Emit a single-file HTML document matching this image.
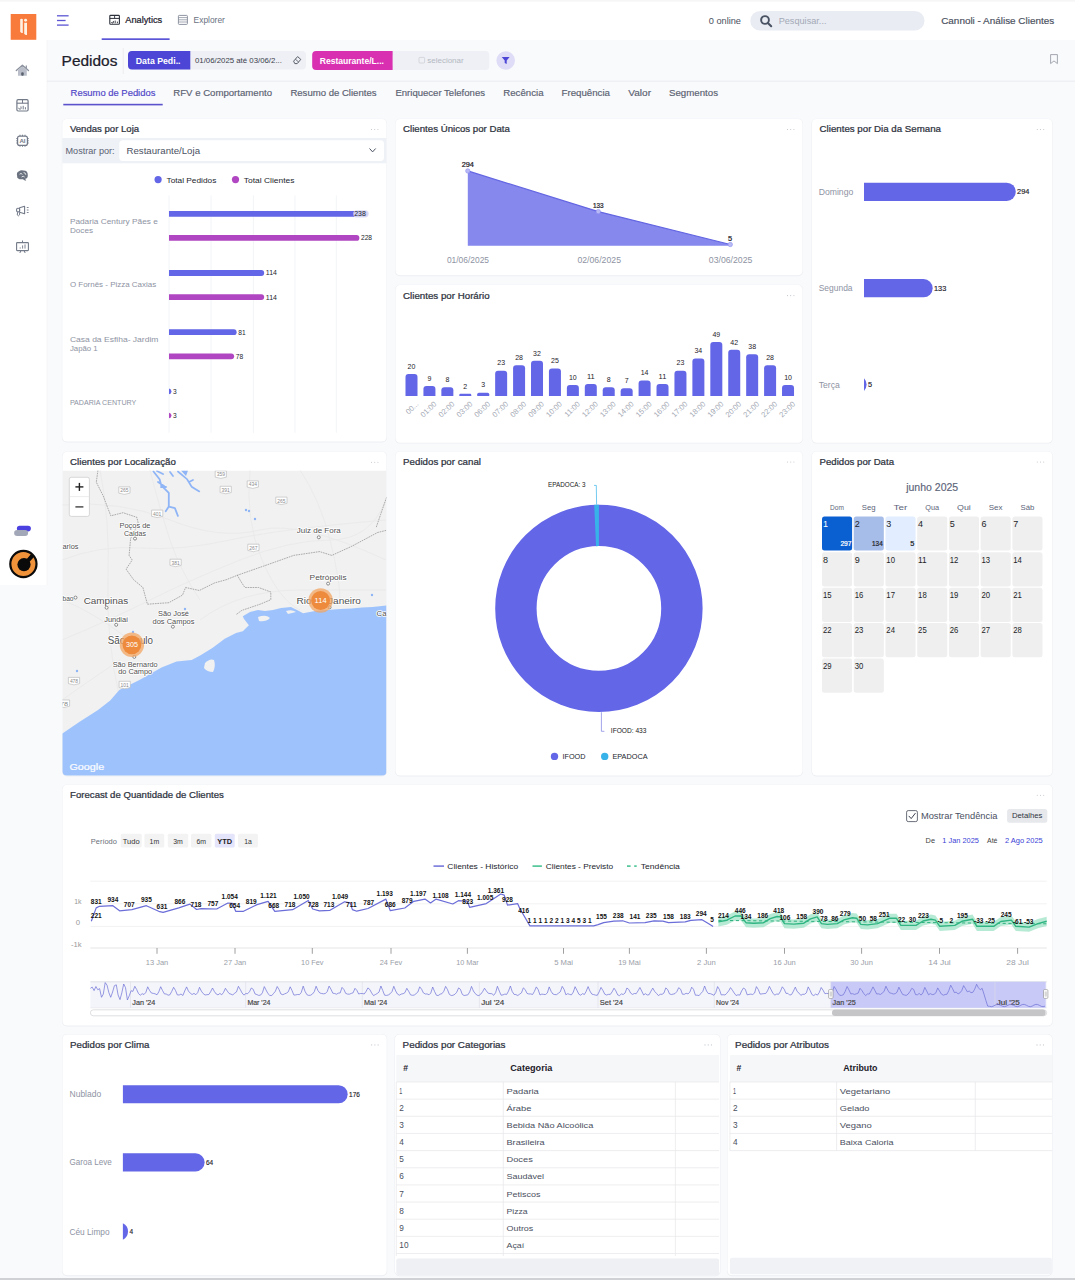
<!DOCTYPE html>
<html><head><meta charset="utf-8"><style>
html,body{margin:0;padding:0;background:#f8f9fb;width:1075px;height:1280px;overflow:hidden}
svg{display:block;font-family:"Liberation Sans",sans-serif}
</style></head><body>
<svg width="1075" height="1280" viewBox="0 0 1075 1280">
<rect x="0.00" y="0.00" width="1075.00" height="1280.00" rx="0" fill="#f9fafc" />
<rect x="0.00" y="0.00" width="1075.00" height="40.00" rx="0" fill="#ffffff" />
<rect x="0.00" y="0.00" width="47.00" height="585.00" rx="0" fill="#ffffff" />
<rect x="0.00" y="0.00" width="1075.00" height="1.60" rx="0" fill="#f6f6f6" />
<line x1="47.00" y1="40.00" x2="47.00" y2="585.00" stroke="#f0f1f4" stroke-width="0.6" />
<rect x="10.70" y="14.00" width="25.60" height="25.80" rx="0" fill="#f97b3b" />
<path d="M20.2 19.2 Q20.2 18.8 21.4 18.8 Q22.8 18.8 22.8 19.4 L22.8 33 Q21 33.2 20.2 31.8 Z" fill="#fff2e4" stroke="none" stroke-width="1" />
<circle cx="25.60" cy="20.30" r="1.45" fill="#fff2e4" />
<path d="M24.2 22.7 L27 22.7 L27 35.1 Q25 35.2 24.2 33.8 Z" fill="#fff2e4" stroke="none" stroke-width="1" />
<path d="M16.3 70.6 L22.4 65.2 L28.5 70.6" fill="none" stroke="#8a909c" stroke-width="1.3" stroke-linecap="round" stroke-linejoin="round"/>
<path d="M18 70 L22.4 66.2 L26.8 70 L26.8 75.7 L18 75.7 Z" fill="#b9bec8" stroke="none" stroke-width="1" />
<rect x="21.20" y="72.20" width="2.50" height="3.50" rx="1" fill="#5d6470" />
<line x1="26.30" y1="65.40" x2="26.30" y2="68.20" stroke="#8a909c" stroke-width="1.2" />
<rect x="16.90" y="99.70" width="11.20" height="11.30" rx="1.2" fill="none" stroke="#737a88" stroke-width="1.2"/>
<line x1="16.90" y1="103.20" x2="28.10" y2="103.20" stroke="#737a88" stroke-width="1.1" />
<line x1="22.50" y1="99.70" x2="22.50" y2="103.20" stroke="#737a88" stroke-width="1.0" />
<path d="M18.6 107.8 Q19 109.6 20.5 109.2 Q21.6 108.6 20.9 106.4" fill="none" stroke="#737a88" stroke-width="1.0" />
<line x1="23.20" y1="105.80" x2="23.20" y2="109.40" stroke="#737a88" stroke-width="1.0" />
<line x1="25.40" y1="107.20" x2="25.40" y2="109.40" stroke="#737a88" stroke-width="1.0" />
<rect x="17.60" y="136.10" width="9.80" height="9.30" rx="2" fill="none" stroke="#737a88" stroke-width="1.2"/>
<line x1="20.00" y1="134.70" x2="20.00" y2="136.10" stroke="#737a88" stroke-width="0.9" />
<line x1="20.00" y1="145.40" x2="20.00" y2="146.80" stroke="#737a88" stroke-width="0.9" />
<line x1="22.50" y1="134.70" x2="22.50" y2="136.10" stroke="#737a88" stroke-width="0.9" />
<line x1="22.50" y1="145.40" x2="22.50" y2="146.80" stroke="#737a88" stroke-width="0.9" />
<line x1="25.00" y1="134.70" x2="25.00" y2="136.10" stroke="#737a88" stroke-width="0.9" />
<line x1="25.00" y1="145.40" x2="25.00" y2="146.80" stroke="#737a88" stroke-width="0.9" />
<line x1="16.20" y1="138.60" x2="17.60" y2="138.60" stroke="#737a88" stroke-width="0.9" />
<line x1="27.40" y1="138.60" x2="28.80" y2="138.60" stroke="#737a88" stroke-width="0.9" />
<line x1="16.20" y1="140.80" x2="17.60" y2="140.80" stroke="#737a88" stroke-width="0.9" />
<line x1="27.40" y1="140.80" x2="28.80" y2="140.80" stroke="#737a88" stroke-width="0.9" />
<line x1="16.20" y1="143.00" x2="17.60" y2="143.00" stroke="#737a88" stroke-width="0.9" />
<line x1="27.40" y1="143.00" x2="28.80" y2="143.00" stroke="#737a88" stroke-width="0.9" />
<text x="22.50" y="143.30" font-size="6.2" fill="#737a88" font-weight="bold" text-anchor="middle" >AI</text>
<path d="M17.2 176 Q16 172.5 19 171.2 Q21 169.6 23.5 170.6 Q27.8 170.6 27.8 175 Q28 178.6 25.2 178.8 L26.2 180.7 Q24 180.6 23 179.2 Q19.6 179.6 18.2 178.4 Q16.6 177.6 17.2 176 Z" fill="#6c7380" stroke="none" stroke-width="1" />
<path d="M19.6 174.2 Q21 172.6 22.4 174.4 M21.6 177 Q23.2 175.4 24.6 177 M23.6 172.6 Q25.6 172.4 25.8 174.8" fill="none" stroke="#ffffff" stroke-width="0.8" />
<path d="M19.6 207.8 L24.6 206.3 L24.6 213.8 L19.6 212.2 Z" fill="none" stroke="#737a88" stroke-width="1.1" stroke-linejoin="round"/>
<rect x="16.60" y="208.30" width="3.00" height="3.60" rx="1.2" fill="none" stroke="#737a88" stroke-width="1.1"/>
<path d="M17.6 212.2 Q16.4 215.9 18.6 215.8 Q20 215.6 19.6 212.6" fill="none" stroke="#737a88" stroke-width="1.0" />
<line x1="26.80" y1="207.50" x2="28.60" y2="207.50" stroke="#737a88" stroke-width="0.9" />
<line x1="26.80" y1="210.00" x2="28.60" y2="210.00" stroke="#737a88" stroke-width="0.9" />
<line x1="26.80" y1="212.50" x2="28.60" y2="212.50" stroke="#737a88" stroke-width="0.9" />
<rect x="16.60" y="242.60" width="11.80" height="8.00" rx="0.6" fill="none" stroke="#737a88" stroke-width="1.1"/>
<line x1="22.50" y1="240.50" x2="22.50" y2="242.60" stroke="#737a88" stroke-width="1" />
<line x1="21.00" y1="250.60" x2="19.80" y2="253.00" stroke="#737a88" stroke-width="1" />
<line x1="24.00" y1="250.60" x2="25.20" y2="253.00" stroke="#737a88" stroke-width="1" />
<line x1="20.20" y1="248.60" x2="20.20" y2="247.40" stroke="#737a88" stroke-width="0.9" />
<line x1="22.60" y1="248.60" x2="22.60" y2="245.40" stroke="#737a88" stroke-width="0.9" />
<line x1="25.00" y1="248.60" x2="25.00" y2="244.40" stroke="#737a88" stroke-width="0.9" />
<rect x="16.90" y="525.80" width="14.00" height="5.60" rx="2.8" fill="#4b40e0" />
<rect x="14.10" y="530.00" width="14.00" height="6.10" rx="3" fill="#a3a8b8" />
<circle cx="23.40" cy="564.00" r="13.10" fill="#f0923a" stroke="#0a0a0a" stroke-width="2.2"/>
<circle cx="24.00" cy="564.60" r="6.60" fill="#0a0a0a" />
<path d="M25.5 560.5 L31.5 553.5 L34.5 556.5 L28.4 563 Z" fill="#0a0a0a" stroke="none" stroke-width="1" />
<line x1="57.00" y1="15.80" x2="68.60" y2="15.80" stroke="#5b55d3" stroke-width="1.3" />
<line x1="57.00" y1="20.50" x2="65.60" y2="20.50" stroke="#5b55d3" stroke-width="1.3" />
<line x1="57.00" y1="25.10" x2="68.60" y2="25.10" stroke="#5b55d3" stroke-width="1.3" />
<rect x="109.80" y="15.40" width="9.60" height="8.80" rx="0.8" fill="none" stroke="#2c303a" stroke-width="1.1"/>
<line x1="109.80" y1="18.40" x2="119.40" y2="18.40" stroke="#2c303a" stroke-width="1" />
<line x1="114.60" y1="15.40" x2="114.60" y2="18.40" stroke="#2c303a" stroke-width="0.9" />
<path d="M111.4 22 Q111.8 23.4 113 23 Q113.8 22.6 113.3 21" fill="none" stroke="#2c303a" stroke-width="0.9" />
<line x1="115.20" y1="20.60" x2="115.20" y2="23.20" stroke="#2c303a" stroke-width="0.9" />
<line x1="117.40" y1="21.60" x2="117.40" y2="23.20" stroke="#2c303a" stroke-width="0.9" />
<text x="125.30" y="23.30" font-size="9.6" fill="#1f2330" stroke="#1f2330" stroke-width="0.24" text-anchor="start" textLength="36.90" lengthAdjust="spacingAndGlyphs" >Analytics</text>
<rect x="101.70" y="38.30" width="67.90" height="1.70" rx="0" fill="#5a55d6" />
<rect x="178.40" y="15.40" width="9.00" height="9.00" rx="0.8" fill="none" stroke="#8d93a0" stroke-width="1"/>
<line x1="178.40" y1="17.60" x2="187.40" y2="17.60" stroke="#8d93a0" stroke-width="0.8" />
<line x1="178.40" y1="19.80" x2="187.40" y2="19.80" stroke="#8d93a0" stroke-width="0.8" />
<line x1="178.40" y1="22.00" x2="187.40" y2="22.00" stroke="#8d93a0" stroke-width="0.8" />
<text x="193.60" y="23.30" font-size="9.6" fill="#6b7282" text-anchor="start" textLength="31.30" lengthAdjust="spacingAndGlyphs" >Explorer</text>
<text x="708.70" y="23.80" font-size="8.7" fill="#4a5060" text-anchor="start" textLength="32.30" lengthAdjust="spacingAndGlyphs" >0 online</text>
<rect x="750.30" y="10.90" width="174.20" height="19.60" rx="9.8" fill="#e9ecf3" />
<circle cx="765.00" cy="20.00" r="3.90" fill="none" stroke="#4a5363" stroke-width="1.9"/>
<line x1="767.90" y1="22.90" x2="771.20" y2="26.20" stroke="#4a5363" stroke-width="2.1" stroke-linecap="round"/>
<text x="778.70" y="24.20" font-size="8.7" fill="#a3a9b6" text-anchor="start" textLength="47.80" lengthAdjust="spacingAndGlyphs" >Pesquisar...</text>
<text x="941.20" y="23.70" font-size="9.0" fill="#4a5060" stroke="#4a5060" stroke-width="0.16" text-anchor="start" textLength="113.00" lengthAdjust="spacingAndGlyphs" >Cannoli - Análise Clientes</text>
<text x="61.60" y="65.80" font-size="14.8" fill="#1c202b" stroke="#1c202b" stroke-width="0.24" text-anchor="start" textLength="55.80" lengthAdjust="spacingAndGlyphs" >Pedidos</text>
<line x1="123.30" y1="48.00" x2="123.30" y2="74.00" stroke="#e9ebef" stroke-width="0.8" />
<rect x="128.00" y="51.00" width="178.00" height="18.60" rx="4" fill="#eef0f5" />
<path d="M132 51 L190.3 51 L190.3 69.6 L132 69.6 Q128 69.6 128 65.6 L128 55 Q128 51 132 51 Z" fill="#4c45d5" stroke="none" stroke-width="1" />
<text x="135.80" y="63.60" font-size="9.0" fill="#ffffff" font-weight="bold" text-anchor="start" textLength="44.70" lengthAdjust="spacingAndGlyphs" >Data Pedi..</text>
<text x="195.00" y="63.40" font-size="8.0" fill="#3c414c" text-anchor="start" textLength="86.90" lengthAdjust="spacingAndGlyphs" >01/06/2025 até 03/06/2...</text>
<path d="M293.6 61.2 L297.6 56.6 L300.8 59.4 L297.2 63.6 L294.8 63.6 Z" fill="none" stroke="#4a4f5a" stroke-width="0.9" stroke-linejoin="round"/>
<line x1="295.40" y1="59.20" x2="298.60" y2="62.00" stroke="#4a4f5a" stroke-width="0.8" />
<rect x="312.20" y="51.00" width="177.10" height="19.00" rx="4" fill="#eef0f5" />
<path d="M316.2 51 L392.6 51 L392.6 70 L316.2 70 Q312.2 70 312.2 66 L312.2 55 Q312.2 51 316.2 51 Z" fill="#d92fb1" stroke="none" stroke-width="1" />
<text x="319.70" y="63.60" font-size="9.0" fill="#ffffff" font-weight="bold" text-anchor="start" textLength="64.30" lengthAdjust="spacingAndGlyphs" >Restaurante/L...</text>
<rect x="419.00" y="57.40" width="5.60" height="5.60" rx="0.8" fill="none" stroke="#c9ccd4" stroke-width="0.7"/>
<text x="427.20" y="63.40" font-size="8.0" fill="#b4b8c2" text-anchor="start" textLength="36.50" lengthAdjust="spacingAndGlyphs" >selecionar</text>
<circle cx="505.70" cy="60.50" r="9.30" fill="#dedcf6" />
<path d="M501.8 56.9 L509.6 56.9 L506.7 60.6 L506.7 64 L504.7 62.9 L504.7 60.6 Z" fill="#4c45d5" stroke="none" stroke-width="1" />
<path d="M1050.6 54.6 L1057.4 54.6 L1057.4 63.6 L1054 60.9 L1050.6 63.6 Z" fill="none" stroke="#9a9ea6" stroke-width="0.9" stroke-linejoin="round"/>
<line x1="47.00" y1="81.20" x2="1075.00" y2="81.20" stroke="#e8eaef" stroke-width="0.9" />
<text x="70.60" y="96.00" font-size="8.7" fill="#5047c8" stroke="#5047c8" stroke-width="0.16" text-anchor="start" textLength="84.80" lengthAdjust="spacingAndGlyphs" >Resumo de Pedidos</text>
<text x="173.30" y="96.00" font-size="8.7" fill="#5b6272" stroke="#5b6272" stroke-width="0.16" text-anchor="start" textLength="98.70" lengthAdjust="spacingAndGlyphs" >RFV e Comportamento</text>
<text x="290.40" y="96.00" font-size="8.7" fill="#5b6272" stroke="#5b6272" stroke-width="0.16" text-anchor="start" textLength="86.10" lengthAdjust="spacingAndGlyphs" >Resumo de Clientes</text>
<text x="395.40" y="96.00" font-size="8.7" fill="#5b6272" stroke="#5b6272" stroke-width="0.16" text-anchor="start" textLength="89.60" lengthAdjust="spacingAndGlyphs" >Enriquecer Telefones</text>
<text x="503.30" y="96.00" font-size="8.7" fill="#5b6272" stroke="#5b6272" stroke-width="0.16" text-anchor="start" textLength="40.20" lengthAdjust="spacingAndGlyphs" >Recência</text>
<text x="561.50" y="96.00" font-size="8.7" fill="#5b6272" stroke="#5b6272" stroke-width="0.16" text-anchor="start" textLength="48.50" lengthAdjust="spacingAndGlyphs" >Frequência</text>
<text x="628.30" y="96.00" font-size="8.7" fill="#5b6272" stroke="#5b6272" stroke-width="0.16" text-anchor="start" textLength="22.70" lengthAdjust="spacingAndGlyphs" >Valor</text>
<text x="669.00" y="96.00" font-size="8.7" fill="#5b6272" stroke="#5b6272" stroke-width="0.16" text-anchor="start" textLength="49.00" lengthAdjust="spacingAndGlyphs" >Segmentos</text>
<rect x="63.30" y="103.80" width="99.40" height="1.60" rx="0" fill="#5b52cc" />
<rect x="61.80" y="118.70" width="325.20" height="323.70" rx="5" fill="#eceef2" />
<rect x="62.30" y="119.00" width="324.20" height="322.50" rx="4.5" fill="#ffffff" />
<text x="69.90" y="132.40" font-size="8.8" fill="#2f3441" stroke="#2f3441" stroke-width="0.24" text-anchor="start" textLength="69.20" lengthAdjust="spacingAndGlyphs" >Vendas por Loja</text>
<circle cx="371.50" cy="129.50" r="0.55" fill="#c0c4cc" />
<circle cx="374.70" cy="129.50" r="0.55" fill="#c0c4cc" />
<circle cx="377.90" cy="129.50" r="0.55" fill="#c0c4cc" />
<rect x="395.00" y="118.70" width="408.00" height="157.50" rx="5" fill="#eceef2" />
<rect x="395.50" y="119.00" width="407.00" height="156.30" rx="4.5" fill="#ffffff" />
<text x="403.10" y="132.40" font-size="8.8" fill="#2f3441" stroke="#2f3441" stroke-width="0.24" text-anchor="start" textLength="106.80" lengthAdjust="spacingAndGlyphs" >Clientes Únicos por Data</text>
<circle cx="787.50" cy="129.50" r="0.55" fill="#c0c4cc" />
<circle cx="790.70" cy="129.50" r="0.55" fill="#c0c4cc" />
<circle cx="793.90" cy="129.50" r="0.55" fill="#c0c4cc" />
<rect x="395.00" y="284.80" width="408.00" height="158.80" rx="5" fill="#eceef2" />
<rect x="395.50" y="285.10" width="407.00" height="157.60" rx="4.5" fill="#ffffff" />
<text x="403.10" y="298.50" font-size="8.8" fill="#2f3441" stroke="#2f3441" stroke-width="0.24" text-anchor="start" textLength="86.50" lengthAdjust="spacingAndGlyphs" >Clientes por Horário</text>
<circle cx="787.50" cy="295.60" r="0.55" fill="#c0c4cc" />
<circle cx="790.70" cy="295.60" r="0.55" fill="#c0c4cc" />
<circle cx="793.90" cy="295.60" r="0.55" fill="#c0c4cc" />
<rect x="811.50" y="118.70" width="241.30" height="324.90" rx="5" fill="#eceef2" />
<rect x="812.00" y="119.00" width="240.30" height="323.70" rx="4.5" fill="#ffffff" />
<text x="819.60" y="132.40" font-size="8.8" fill="#2f3441" stroke="#2f3441" stroke-width="0.24" text-anchor="start" textLength="121.40" lengthAdjust="spacingAndGlyphs" >Clientes por Dia da Semana</text>
<circle cx="1037.30" cy="129.50" r="0.55" fill="#c0c4cc" />
<circle cx="1040.50" cy="129.50" r="0.55" fill="#c0c4cc" />
<circle cx="1043.70" cy="129.50" r="0.55" fill="#c0c4cc" />
<rect x="62.00" y="451.40" width="325.00" height="325.00" rx="5" fill="#eceef2" />
<rect x="62.50" y="451.70" width="324.00" height="323.80" rx="4.5" fill="#ffffff" />
<text x="70.10" y="465.10" font-size="8.8" fill="#2f3441" stroke="#2f3441" stroke-width="0.24" text-anchor="start" textLength="105.70" lengthAdjust="spacingAndGlyphs" >Clientes por Localização</text>
<circle cx="371.50" cy="462.20" r="0.55" fill="#c0c4cc" />
<circle cx="374.70" cy="462.20" r="0.55" fill="#c0c4cc" />
<circle cx="377.90" cy="462.20" r="0.55" fill="#c0c4cc" />
<rect x="395.00" y="451.20" width="408.00" height="325.20" rx="5" fill="#eceef2" />
<rect x="395.50" y="451.50" width="407.00" height="324.00" rx="4.5" fill="#ffffff" />
<text x="403.10" y="464.90" font-size="8.8" fill="#2f3441" stroke="#2f3441" stroke-width="0.24" text-anchor="start" textLength="77.90" lengthAdjust="spacingAndGlyphs" >Pedidos por canal</text>
<circle cx="787.50" cy="462.00" r="0.55" fill="#c0c4cc" />
<circle cx="790.70" cy="462.00" r="0.55" fill="#c0c4cc" />
<circle cx="793.90" cy="462.00" r="0.55" fill="#c0c4cc" />
<rect x="811.50" y="451.20" width="241.30" height="325.20" rx="5" fill="#eceef2" />
<rect x="812.00" y="451.50" width="240.30" height="324.00" rx="4.5" fill="#ffffff" />
<text x="819.60" y="464.90" font-size="8.8" fill="#2f3441" stroke="#2f3441" stroke-width="0.24" text-anchor="start" textLength="74.40" lengthAdjust="spacingAndGlyphs" >Pedidos por Data</text>
<circle cx="1037.30" cy="462.00" r="0.55" fill="#c0c4cc" />
<circle cx="1040.50" cy="462.00" r="0.55" fill="#c0c4cc" />
<circle cx="1043.70" cy="462.00" r="0.55" fill="#c0c4cc" />
<rect x="62.00" y="784.40" width="990.80" height="242.00" rx="5" fill="#eceef2" />
<rect x="62.50" y="784.70" width="989.80" height="240.80" rx="4.5" fill="#ffffff" />
<text x="70.10" y="798.10" font-size="8.8" fill="#2f3441" stroke="#2f3441" stroke-width="0.24" text-anchor="start" textLength="153.70" lengthAdjust="spacingAndGlyphs" >Forecast de Quantidade de Clientes</text>
<circle cx="1037.30" cy="795.20" r="0.55" fill="#c0c4cc" />
<circle cx="1040.50" cy="795.20" r="0.55" fill="#c0c4cc" />
<circle cx="1043.70" cy="795.20" r="0.55" fill="#c0c4cc" />
<rect x="62.00" y="1034.10" width="325.20" height="242.10" rx="5" fill="#eceef2" />
<rect x="62.50" y="1034.40" width="324.20" height="240.90" rx="4.5" fill="#ffffff" />
<text x="70.10" y="1047.80" font-size="8.8" fill="#2f3441" stroke="#2f3441" stroke-width="0.24" text-anchor="start" textLength="79.30" lengthAdjust="spacingAndGlyphs" >Pedidos por Clima</text>
<circle cx="371.70" cy="1044.90" r="0.55" fill="#c0c4cc" />
<circle cx="374.90" cy="1044.90" r="0.55" fill="#c0c4cc" />
<circle cx="378.10" cy="1044.90" r="0.55" fill="#c0c4cc" />
<rect x="394.50" y="1034.10" width="326.00" height="242.10" rx="5" fill="#eceef2" />
<rect x="395.00" y="1034.40" width="325.00" height="240.90" rx="4.5" fill="#ffffff" />
<text x="402.60" y="1047.80" font-size="8.8" fill="#2f3441" stroke="#2f3441" stroke-width="0.24" text-anchor="start" textLength="102.90" lengthAdjust="spacingAndGlyphs" >Pedidos por Categorias</text>
<circle cx="705.00" cy="1044.90" r="0.55" fill="#c0c4cc" />
<circle cx="708.20" cy="1044.90" r="0.55" fill="#c0c4cc" />
<circle cx="711.40" cy="1044.90" r="0.55" fill="#c0c4cc" />
<rect x="727.00" y="1034.10" width="325.50" height="242.10" rx="5" fill="#eceef2" />
<rect x="727.50" y="1034.40" width="324.50" height="240.90" rx="4.5" fill="#ffffff" />
<text x="735.10" y="1047.80" font-size="8.8" fill="#2f3441" stroke="#2f3441" stroke-width="0.24" text-anchor="start" textLength="93.90" lengthAdjust="spacingAndGlyphs" >Pedidos por Atributos</text>
<circle cx="1037.00" cy="1044.90" r="0.55" fill="#c0c4cc" />
<circle cx="1040.20" cy="1044.90" r="0.55" fill="#c0c4cc" />
<circle cx="1043.40" cy="1044.90" r="0.55" fill="#c0c4cc" />
<rect x="0.00" y="1278.00" width="1075.00" height="2.00" rx="0" fill="#cfd1d5" />
<rect x="62.30" y="138.00" width="324.20" height="25.30" rx="0" fill="#eef1f6" />
<text x="65.50" y="153.60" font-size="9.4" fill="#5a6172" text-anchor="start" textLength="49.10" lengthAdjust="spacingAndGlyphs" >Mostrar por:</text>
<rect x="119.30" y="140.30" width="264.70" height="20.60" rx="3.5" fill="#ffffff" />
<text x="126.50" y="153.60" font-size="9.4" fill="#4a5162" text-anchor="start" textLength="73.50" lengthAdjust="spacingAndGlyphs" >Restaurante/Loja</text>
<path d="M369.8 148.8 L372.6 151.9 L375.4 148.8" fill="none" stroke="#4a5162" stroke-width="1.0" stroke-linecap="round" stroke-linejoin="round"/>
<circle cx="158.10" cy="179.60" r="3.60" fill="#6366e6" />
<text x="166.50" y="182.60" font-size="8.0" fill="#23262d" text-anchor="start" textLength="49.80" lengthAdjust="spacingAndGlyphs" >Total Pedidos</text>
<circle cx="235.50" cy="179.60" r="3.60" fill="#b046c1" />
<text x="243.80" y="182.60" font-size="8.0" fill="#23262d" text-anchor="start" textLength="50.60" lengthAdjust="spacingAndGlyphs" >Total Clientes</text>
<line x1="169.00" y1="195.40" x2="169.00" y2="432.80" stroke="#eff1f4" stroke-width="0.8" />
<line x1="211.00" y1="195.40" x2="211.00" y2="432.80" stroke="#eff1f4" stroke-width="0.8" />
<line x1="253.40" y1="195.40" x2="253.40" y2="432.80" stroke="#eff1f4" stroke-width="0.8" />
<line x1="294.90" y1="195.40" x2="294.90" y2="432.80" stroke="#eff1f4" stroke-width="0.8" />
<line x1="336.30" y1="195.40" x2="336.30" y2="432.80" stroke="#eff1f4" stroke-width="0.8" />
<path d="M169.00 210.90 L364.83 210.90 A2.90 2.90 0 0 1 364.83 216.70 L169.00 216.70 Z" fill="#6366e6" stroke="none" stroke-width="1" />
<path d="M169.00 235.00 L356.48 235.00 A2.90 2.90 0 0 1 356.48 240.80 L169.00 240.80 Z" fill="#b046c1" stroke="none" stroke-width="1" />
<rect x="353.23" y="210.20" width="15.50" height="7.20" rx="3.6" fill="#dcdcf4" opacity="0.9"/>
<text x="354.23" y="216.20" font-size="7.0" fill="#23262d" text-anchor="start" textLength="11.60" lengthAdjust="spacingAndGlyphs" >238</text>
<text x="360.98" y="240.30" font-size="7.0" fill="#23262d" text-anchor="start" textLength="11.10" lengthAdjust="spacingAndGlyphs" >228</text>
<path d="M169.00 270.10 L261.29 270.10 A2.90 2.90 0 0 1 261.29 275.90 L169.00 275.90 Z" fill="#6366e6" stroke="none" stroke-width="1" />
<path d="M169.00 294.20 L261.29 294.20 A2.90 2.90 0 0 1 261.29 300.00 L169.00 300.00 Z" fill="#b046c1" stroke="none" stroke-width="1" />
<text x="265.79" y="275.40" font-size="7.0" fill="#23262d" text-anchor="start" textLength="11.10" lengthAdjust="spacingAndGlyphs" >114</text>
<text x="265.79" y="299.50" font-size="7.0" fill="#23262d" text-anchor="start" textLength="11.10" lengthAdjust="spacingAndGlyphs" >114</text>
<path d="M169.00 329.30 L233.73 329.30 A2.90 2.90 0 0 1 233.73 335.10 L169.00 335.10 Z" fill="#6366e6" stroke="none" stroke-width="1" />
<path d="M169.00 353.40 L231.23 353.40 A2.90 2.90 0 0 1 231.23 359.20 L169.00 359.20 Z" fill="#b046c1" stroke="none" stroke-width="1" />
<text x="238.23" y="334.60" font-size="7.0" fill="#23262d" text-anchor="start" textLength="7.40" lengthAdjust="spacingAndGlyphs" >81</text>
<text x="235.73" y="358.70" font-size="7.0" fill="#23262d" text-anchor="start" textLength="7.40" lengthAdjust="spacingAndGlyphs" >78</text>
<path d="M169.00 388.53 A2.90 2.90 0 0 1 169.00 394.27 Z" fill="#6366e6" stroke="none" stroke-width="1" />
<path d="M169.00 412.63 A2.90 2.90 0 0 1 169.00 418.37 Z" fill="#b046c1" stroke="none" stroke-width="1" />
<text x="173.10" y="393.80" font-size="7.0" fill="#23262d" text-anchor="start" textLength="3.70" lengthAdjust="spacingAndGlyphs" >3</text>
<text x="173.10" y="417.90" font-size="7.0" fill="#23262d" text-anchor="start" textLength="3.70" lengthAdjust="spacingAndGlyphs" >3</text>
<text x="69.90" y="223.50" font-size="8.0" fill="#8e93a3" text-anchor="start" textLength="87.90" lengthAdjust="spacingAndGlyphs" >Padaria Century Pães e</text>
<text x="69.90" y="233.00" font-size="8.0" fill="#8e93a3" text-anchor="start" textLength="23.10" lengthAdjust="spacingAndGlyphs" >Doces</text>
<text x="69.90" y="287.00" font-size="8.0" fill="#8e93a3" text-anchor="start" textLength="86.30" lengthAdjust="spacingAndGlyphs" >O Fornês - Pizza Caxias</text>
<text x="69.90" y="341.60" font-size="8.0" fill="#8e93a3" text-anchor="start" textLength="88.50" lengthAdjust="spacingAndGlyphs" >Casa da Esfiha- Jardim</text>
<text x="69.90" y="351.00" font-size="8.0" fill="#8e93a3" text-anchor="start" textLength="27.80" lengthAdjust="spacingAndGlyphs" >Japão 1</text>
<text x="69.90" y="404.90" font-size="8.0" fill="#8e93a3" text-anchor="start" textLength="66.40" lengthAdjust="spacingAndGlyphs" >PADARIA CENTURY</text>
<path d="M467.8 245.8 L467.8 170.9 L598.3 211.6 L730.3 244.5 L730.3 245.8 Z" fill="#8688ee" stroke="none" stroke-width="1" />
<path d="M467.8 170.9 L598.3 211.6 L730.3 244.5" fill="none" stroke="#6466e2" stroke-width="1.2" />
<circle cx="467.80" cy="170.90" r="2.20" fill="#b9baf5" stroke="#8f91ee" stroke-width="0.6"/>
<circle cx="598.30" cy="211.60" r="2.20" fill="#b9baf5" stroke="#8f91ee" stroke-width="0.6"/>
<circle cx="730.30" cy="244.50" r="2.20" fill="#b9baf5" stroke="#8f91ee" stroke-width="0.6"/>
<text x="467.80" y="166.90" font-size="7.4" fill="#1e2128" stroke="#1e2128" stroke-width="0.24" text-anchor="middle" textLength="12.30" lengthAdjust="spacingAndGlyphs" >294</text>
<text x="598.30" y="207.90" font-size="7.4" fill="#1e2128" stroke="#1e2128" stroke-width="0.24" text-anchor="middle" textLength="10.80" lengthAdjust="spacingAndGlyphs" >133</text>
<text x="730.00" y="240.80" font-size="7.4" fill="#1e2128" stroke="#1e2128" stroke-width="0.24" text-anchor="middle" >5</text>
<text x="446.90" y="262.60" font-size="8.2" fill="#8e93a3" text-anchor="start" textLength="42.10" lengthAdjust="spacingAndGlyphs" >01/06/2025</text>
<text x="577.40" y="262.60" font-size="8.2" fill="#8e93a3" text-anchor="start" textLength="43.60" lengthAdjust="spacingAndGlyphs" >02/06/2025</text>
<text x="708.80" y="262.60" font-size="8.2" fill="#8e93a3" text-anchor="start" textLength="43.60" lengthAdjust="spacingAndGlyphs" >03/06/2025</text>
<path d="M405.50 396.0 L405.50 377.00 Q405.50 374.00 408.50 374.00 L414.50 374.00 Q417.50 374.00 417.50 377.00 L417.50 396.0 Z" fill="#6366e6" stroke="none" stroke-width="1" />
<text x="411.50" y="368.70" font-size="7.2" fill="#1e2128" text-anchor="middle" textLength="7.80" lengthAdjust="spacingAndGlyphs" >20</text>
<text x="0" y="0" font-size="7.6" fill="#a3a8b3" text-anchor="end" transform="translate(419.10,404.40) rotate(-45)">00...</text>
<path d="M423.43 396.0 L423.43 389.10 Q423.43 386.10 426.43 386.10 L432.43 386.10 Q435.43 386.10 435.43 389.10 L435.43 396.0 Z" fill="#6366e6" stroke="none" stroke-width="1" />
<text x="429.43" y="380.80" font-size="7.2" fill="#1e2128" text-anchor="middle" textLength="3.90" lengthAdjust="spacingAndGlyphs" >9</text>
<text x="0" y="0" font-size="7.6" fill="#a3a8b3" text-anchor="end" transform="translate(437.03,404.40) rotate(-45)">01:00</text>
<path d="M441.36 396.0 L441.36 390.20 Q441.36 387.20 444.36 387.20 L450.36 387.20 Q453.36 387.20 453.36 390.20 L453.36 396.0 Z" fill="#6366e6" stroke="none" stroke-width="1" />
<text x="447.36" y="381.90" font-size="7.2" fill="#1e2128" text-anchor="middle" textLength="3.90" lengthAdjust="spacingAndGlyphs" >8</text>
<text x="0" y="0" font-size="7.6" fill="#a3a8b3" text-anchor="end" transform="translate(454.96,404.40) rotate(-45)">02:00</text>
<path d="M459.29 396.0 L459.29 394.90 Q459.29 393.80 460.39 393.80 L470.19 393.80 Q471.29 393.80 471.29 394.90 L471.29 396.0 Z" fill="#6366e6" stroke="none" stroke-width="1" />
<text x="465.29" y="388.50" font-size="7.2" fill="#1e2128" text-anchor="middle" textLength="3.90" lengthAdjust="spacingAndGlyphs" >2</text>
<text x="0" y="0" font-size="7.6" fill="#a3a8b3" text-anchor="end" transform="translate(472.89,404.40) rotate(-45)">03:00</text>
<path d="M477.22 396.0 L477.22 394.35 Q477.22 392.70 478.87 392.70 L487.57 392.70 Q489.22 392.70 489.22 394.35 L489.22 396.0 Z" fill="#6366e6" stroke="none" stroke-width="1" />
<text x="483.22" y="387.40" font-size="7.2" fill="#1e2128" text-anchor="middle" textLength="3.90" lengthAdjust="spacingAndGlyphs" >3</text>
<text x="0" y="0" font-size="7.6" fill="#a3a8b3" text-anchor="end" transform="translate(490.82,404.40) rotate(-45)">06:00</text>
<path d="M495.15 396.0 L495.15 373.70 Q495.15 370.70 498.15 370.70 L504.15 370.70 Q507.15 370.70 507.15 373.70 L507.15 396.0 Z" fill="#6366e6" stroke="none" stroke-width="1" />
<text x="501.15" y="365.40" font-size="7.2" fill="#1e2128" text-anchor="middle" textLength="7.80" lengthAdjust="spacingAndGlyphs" >23</text>
<text x="0" y="0" font-size="7.6" fill="#a3a8b3" text-anchor="end" transform="translate(508.75,404.40) rotate(-45)">07:00</text>
<path d="M513.08 396.0 L513.08 368.20 Q513.08 365.20 516.08 365.20 L522.08 365.20 Q525.08 365.20 525.08 368.20 L525.08 396.0 Z" fill="#6366e6" stroke="none" stroke-width="1" />
<text x="519.08" y="359.90" font-size="7.2" fill="#1e2128" text-anchor="middle" textLength="7.80" lengthAdjust="spacingAndGlyphs" >28</text>
<text x="0" y="0" font-size="7.6" fill="#a3a8b3" text-anchor="end" transform="translate(526.68,404.40) rotate(-45)">08:00</text>
<path d="M531.01 396.0 L531.01 363.80 Q531.01 360.80 534.01 360.80 L540.01 360.80 Q543.01 360.80 543.01 363.80 L543.01 396.0 Z" fill="#6366e6" stroke="none" stroke-width="1" />
<text x="537.01" y="355.50" font-size="7.2" fill="#1e2128" text-anchor="middle" textLength="7.80" lengthAdjust="spacingAndGlyphs" >32</text>
<text x="0" y="0" font-size="7.6" fill="#a3a8b3" text-anchor="end" transform="translate(544.61,404.40) rotate(-45)">09:00</text>
<path d="M548.94 396.0 L548.94 371.50 Q548.94 368.50 551.94 368.50 L557.94 368.50 Q560.94 368.50 560.94 371.50 L560.94 396.0 Z" fill="#6366e6" stroke="none" stroke-width="1" />
<text x="554.94" y="363.20" font-size="7.2" fill="#1e2128" text-anchor="middle" textLength="7.80" lengthAdjust="spacingAndGlyphs" >25</text>
<text x="0" y="0" font-size="7.6" fill="#a3a8b3" text-anchor="end" transform="translate(562.54,404.40) rotate(-45)">10:00</text>
<path d="M566.87 396.0 L566.87 388.00 Q566.87 385.00 569.87 385.00 L575.87 385.00 Q578.87 385.00 578.87 388.00 L578.87 396.0 Z" fill="#6366e6" stroke="none" stroke-width="1" />
<text x="572.87" y="379.70" font-size="7.2" fill="#1e2128" text-anchor="middle" textLength="7.80" lengthAdjust="spacingAndGlyphs" >10</text>
<text x="0" y="0" font-size="7.6" fill="#a3a8b3" text-anchor="end" transform="translate(580.47,404.40) rotate(-45)">11:00</text>
<path d="M584.80 396.0 L584.80 386.90 Q584.80 383.90 587.80 383.90 L593.80 383.90 Q596.80 383.90 596.80 386.90 L596.80 396.0 Z" fill="#6366e6" stroke="none" stroke-width="1" />
<text x="590.80" y="378.60" font-size="7.2" fill="#1e2128" text-anchor="middle" textLength="7.80" lengthAdjust="spacingAndGlyphs" >11</text>
<text x="0" y="0" font-size="7.6" fill="#a3a8b3" text-anchor="end" transform="translate(598.40,404.40) rotate(-45)">12:00</text>
<path d="M602.73 396.0 L602.73 390.20 Q602.73 387.20 605.73 387.20 L611.73 387.20 Q614.73 387.20 614.73 390.20 L614.73 396.0 Z" fill="#6366e6" stroke="none" stroke-width="1" />
<text x="608.73" y="381.90" font-size="7.2" fill="#1e2128" text-anchor="middle" textLength="3.90" lengthAdjust="spacingAndGlyphs" >8</text>
<text x="0" y="0" font-size="7.6" fill="#a3a8b3" text-anchor="end" transform="translate(616.33,404.40) rotate(-45)">13:00</text>
<path d="M620.66 396.0 L620.66 391.30 Q620.66 388.30 623.66 388.30 L629.66 388.30 Q632.66 388.30 632.66 391.30 L632.66 396.0 Z" fill="#6366e6" stroke="none" stroke-width="1" />
<text x="626.66" y="383.00" font-size="7.2" fill="#1e2128" text-anchor="middle" textLength="3.90" lengthAdjust="spacingAndGlyphs" >7</text>
<text x="0" y="0" font-size="7.6" fill="#a3a8b3" text-anchor="end" transform="translate(634.26,404.40) rotate(-45)">14:00</text>
<path d="M638.59 396.0 L638.59 383.60 Q638.59 380.60 641.59 380.60 L647.59 380.60 Q650.59 380.60 650.59 383.60 L650.59 396.0 Z" fill="#6366e6" stroke="none" stroke-width="1" />
<text x="644.59" y="375.30" font-size="7.2" fill="#1e2128" text-anchor="middle" textLength="7.80" lengthAdjust="spacingAndGlyphs" >14</text>
<text x="0" y="0" font-size="7.6" fill="#a3a8b3" text-anchor="end" transform="translate(652.19,404.40) rotate(-45)">15:00</text>
<path d="M656.52 396.0 L656.52 386.90 Q656.52 383.90 659.52 383.90 L665.52 383.90 Q668.52 383.90 668.52 386.90 L668.52 396.0 Z" fill="#6366e6" stroke="none" stroke-width="1" />
<text x="662.52" y="378.60" font-size="7.2" fill="#1e2128" text-anchor="middle" textLength="7.80" lengthAdjust="spacingAndGlyphs" >11</text>
<text x="0" y="0" font-size="7.6" fill="#a3a8b3" text-anchor="end" transform="translate(670.12,404.40) rotate(-45)">16:00</text>
<path d="M674.45 396.0 L674.45 373.70 Q674.45 370.70 677.45 370.70 L683.45 370.70 Q686.45 370.70 686.45 373.70 L686.45 396.0 Z" fill="#6366e6" stroke="none" stroke-width="1" />
<text x="680.45" y="365.40" font-size="7.2" fill="#1e2128" text-anchor="middle" textLength="7.80" lengthAdjust="spacingAndGlyphs" >23</text>
<text x="0" y="0" font-size="7.6" fill="#a3a8b3" text-anchor="end" transform="translate(688.05,404.40) rotate(-45)">17:00</text>
<path d="M692.38 396.0 L692.38 361.60 Q692.38 358.60 695.38 358.60 L701.38 358.60 Q704.38 358.60 704.38 361.60 L704.38 396.0 Z" fill="#6366e6" stroke="none" stroke-width="1" />
<text x="698.38" y="353.30" font-size="7.2" fill="#1e2128" text-anchor="middle" textLength="7.80" lengthAdjust="spacingAndGlyphs" >34</text>
<text x="0" y="0" font-size="7.6" fill="#a3a8b3" text-anchor="end" transform="translate(705.98,404.40) rotate(-45)">18:00</text>
<path d="M710.31 396.0 L710.31 345.10 Q710.31 342.10 713.31 342.10 L719.31 342.10 Q722.31 342.10 722.31 345.10 L722.31 396.0 Z" fill="#6366e6" stroke="none" stroke-width="1" />
<text x="716.31" y="336.80" font-size="7.2" fill="#1e2128" text-anchor="middle" textLength="7.80" lengthAdjust="spacingAndGlyphs" >49</text>
<text x="0" y="0" font-size="7.6" fill="#a3a8b3" text-anchor="end" transform="translate(723.91,404.40) rotate(-45)">19:00</text>
<path d="M728.24 396.0 L728.24 352.80 Q728.24 349.80 731.24 349.80 L737.24 349.80 Q740.24 349.80 740.24 352.80 L740.24 396.0 Z" fill="#6366e6" stroke="none" stroke-width="1" />
<text x="734.24" y="344.50" font-size="7.2" fill="#1e2128" text-anchor="middle" textLength="7.80" lengthAdjust="spacingAndGlyphs" >42</text>
<text x="0" y="0" font-size="7.6" fill="#a3a8b3" text-anchor="end" transform="translate(741.84,404.40) rotate(-45)">20:00</text>
<path d="M746.17 396.0 L746.17 357.20 Q746.17 354.20 749.17 354.20 L755.17 354.20 Q758.17 354.20 758.17 357.20 L758.17 396.0 Z" fill="#6366e6" stroke="none" stroke-width="1" />
<text x="752.17" y="348.90" font-size="7.2" fill="#1e2128" text-anchor="middle" textLength="7.80" lengthAdjust="spacingAndGlyphs" >38</text>
<text x="0" y="0" font-size="7.6" fill="#a3a8b3" text-anchor="end" transform="translate(759.77,404.40) rotate(-45)">21:00</text>
<path d="M764.10 396.0 L764.10 368.20 Q764.10 365.20 767.10 365.20 L773.10 365.20 Q776.10 365.20 776.10 368.20 L776.10 396.0 Z" fill="#6366e6" stroke="none" stroke-width="1" />
<text x="770.10" y="359.90" font-size="7.2" fill="#1e2128" text-anchor="middle" textLength="7.80" lengthAdjust="spacingAndGlyphs" >28</text>
<text x="0" y="0" font-size="7.6" fill="#a3a8b3" text-anchor="end" transform="translate(777.70,404.40) rotate(-45)">22:00</text>
<path d="M782.03 396.0 L782.03 388.00 Q782.03 385.00 785.03 385.00 L791.03 385.00 Q794.03 385.00 794.03 388.00 L794.03 396.0 Z" fill="#6366e6" stroke="none" stroke-width="1" />
<text x="788.03" y="379.70" font-size="7.2" fill="#1e2128" text-anchor="middle" textLength="7.80" lengthAdjust="spacingAndGlyphs" >10</text>
<text x="0" y="0" font-size="7.6" fill="#a3a8b3" text-anchor="end" transform="translate(795.63,404.40) rotate(-45)">23:00</text>
<path d="M864.00 182.70 L1006.69 182.70 A9.10 9.10 0 0 1 1006.69 200.90 L864.00 200.90 Z" fill="#6366e6" stroke="none" stroke-width="1" />
<text x="818.70" y="194.80" font-size="8.2" fill="#8e93a3" text-anchor="start" textLength="34.60" lengthAdjust="spacingAndGlyphs" >Domingo</text>
<text x="1017.09" y="194.40" font-size="7.4" fill="#1e2128" stroke="#1e2128" stroke-width="0.16" text-anchor="start" textLength="12.30" lengthAdjust="spacingAndGlyphs" >294</text>
<path d="M864.00 279.10 L923.57 279.10 A9.10 9.10 0 0 1 923.57 297.30 L864.00 297.30 Z" fill="#6366e6" stroke="none" stroke-width="1" />
<text x="818.70" y="291.20" font-size="8.2" fill="#8e93a3" text-anchor="start" textLength="33.90" lengthAdjust="spacingAndGlyphs" >Segunda</text>
<text x="933.97" y="290.80" font-size="7.4" fill="#1e2128" stroke="#1e2128" stroke-width="0.16" text-anchor="start" textLength="12.30" lengthAdjust="spacingAndGlyphs" >133</text>
<path d="M864.00 378.25 A9.10 9.10 0 0 1 864.00 390.95 Z" fill="#6366e6" stroke="none" stroke-width="1" />
<text x="818.70" y="387.60" font-size="8.2" fill="#8e93a3" text-anchor="start" textLength="21.20" lengthAdjust="spacingAndGlyphs" >Terça</text>
<text x="867.88" y="387.20" font-size="7.4" fill="#1e2128" stroke="#1e2128" stroke-width="0.16" text-anchor="start" textLength="4.10" lengthAdjust="spacingAndGlyphs" >5</text>
<defs><clipPath id="mapclip"><path d="M62.5 470.6 L386.5 470.6 L386.5 771 Q386.5 775.5 382 775.5 L67 775.5 Q62.5 775.5 62.5 771 Z"/></clipPath></defs>
<g clip-path="url(#mapclip)">
<rect x="62.50" y="470.60" width="324.00" height="304.90" rx="0" fill="#f1f1f1" />
<path d="M62 560 Q100 545 140 548 T230 540 T386 520" fill="none" stroke="#e9e9e9" stroke-width="0.8" />
<path d="M62 640 Q110 620 150 600 T240 560 T330 540 T386 500" fill="none" stroke="#e9e9e9" stroke-width="0.8" />
<path d="M100 470 Q110 520 108 580 T120 700" fill="none" stroke="#e9e9e9" stroke-width="0.8" />
<path d="M150 470 Q160 510 170 540 T200 600" fill="none" stroke="#e9e9e9" stroke-width="0.8" />
<path d="M250 470 Q245 520 262 560 T300 610" fill="none" stroke="#e9e9e9" stroke-width="0.8" />
<path d="M62 700 Q90 680 120 660" fill="none" stroke="#e9e9e9" stroke-width="0.8" />
<path d="M300 470 Q320 500 330 540 T340 600" fill="none" stroke="#e9e9e9" stroke-width="0.8" />
<path d="M62 505 Q120 500 170 520 T260 530 T386 560" fill="none" stroke="#e9e9e9" stroke-width="0.8" />
<path d="M200 620 Q240 590 300 590 T386 590" fill="none" stroke="#e9e9e9" stroke-width="0.8" />
<path d="M62 600 Q90 610 130 640" fill="none" stroke="#e9e9e9" stroke-width="0.8" />
<path d="M62.0 733.7 L80.0 721.6 L98.0 710.0 L110.2 700.6 L119.3 690.0 L140.4 679.5 L161.5 667.4 L176.5 661.4 L191.6 659.9 L200.6 655.3 L212.7 647.8 L224.7 638.8 L236.0 633.0 L242.8 631.2 L248.9 625.2 L244.0 619.0 L242.8 616.2 L250.0 612.0 L257.9 610.1 L265.0 611.0 L273.0 610.1 L281.0 608.0 L291.0 607.1 L297.0 610.0 L303.1 613.2 L315.0 611.0 L327.2 610.1 L340.0 609.0 L351.3 608.6 L362.0 607.5 L372.4 607.1 L386.5 605.6 L386.5 776.0 L62.0 776.0 Z" fill="#9ec3fc" stroke="none" stroke-width="1" />
<path d="M205 663 Q210 658 214 660 Q216 666 213 672 Q207 672 204 668 Z" fill="#f1f1f1" stroke="none" stroke-width="1" />
<path d="M258 617 Q266 614 270 618 Q266 622 259 621 Z" fill="#f1f1f1" stroke="none" stroke-width="1" />
<path d="M286 611 Q292 609 296 612 L288 614 Z" fill="#f1f1f1" stroke="none" stroke-width="1" />
<path d="M153.5 471.5 L159.6 479.2 L161.2 485.3 L168.8 492.9 L168.8 506.6 L165.7 511.2 M168.8 506.6 L174.9 508.1 L177.9 515.8 M158 482 L164 486 M157 471 L163 474 M161 487 L166 487" fill="none" stroke="#8fb5f6" stroke-width="1.8" stroke-linecap="round" stroke-linejoin="round"/>
<path d="M177.9 471.5 L187.1 479.2 L191.7 486.8 L199.3 491.4 M170 472 L173 476 M189 482 L193 480" fill="none" stroke="#8fb5f6" stroke-width="1.7" stroke-linecap="round"/>
<path d="M181 470.6 L188 470.6 L186 476 Z" fill="#8fb5f6" stroke="none" stroke-width="1" />
<circle cx="246.00" cy="510.00" r="1.20" fill="#8fb5f6" />
<circle cx="249.00" cy="511.00" r="1.20" fill="#8fb5f6" />
<circle cx="255.00" cy="519.00" r="1.20" fill="#8fb5f6" />
<circle cx="185.00" cy="609.00" r="1.20" fill="#8fb5f6" />
<circle cx="133.00" cy="632.00" r="1.20" fill="#8fb5f6" />
<circle cx="77.00" cy="671.00" r="1.20" fill="#8fb5f6" />
<circle cx="372.00" cy="595.00" r="1.20" fill="#8fb5f6" />
<circle cx="345.00" cy="602.00" r="1.20" fill="#8fb5f6" />
<circle cx="310.00" cy="603.00" r="1.20" fill="#8fb5f6" />
<path d="M97.9 470.6 L96.3 482.2 L103.2 495.9 L107.8 508.1 L110.8 515.8 L123 512.7 L136.8 517.3 L138.3 523.4 L130.6 538.6 L129.1 555.4 L132.2 560 L126.1 569.2 L133.7 579.8 L142.9 587.5 L147.4 604.2 L168.8 602.7 L182.5 595.1 L185.6 587.5 L199.3 590.5 L214.6 582.9 L226 579.8 L237.3 575.3 L267.8 564.6 L293.7 555.4 L319.6 551.6 L331.8 555.4 L351.7 546.3 L377.6 532.5 L386.5 530.3" fill="none" stroke="#8c8c8c" stroke-width="0.7" stroke-dasharray="0.9 1.6" stroke-linecap="round"/>
<path d="M386.5 497.5 L380.7 514.2 L376 528" fill="none" stroke="#8c8c8c" stroke-width="0.7" stroke-dasharray="0.9 1.6" stroke-linecap="round"/>
<path d="M237.3 575.3 L241.8 582.9 L244.9 587.5 L258.6 587.5 L270.8 592 L270.8 599.7 L260.1 604.2 L241.8 610.4 L235.7 614.9" fill="none" stroke="#8c8c8c" stroke-width="0.7" stroke-dasharray="0.9 1.6" stroke-linecap="round"/>
<path d="M118.8 486.9 L130.0 486.9 L130.0 493.1 Q124.4 495.7 118.8 493.1 Z" fill="#ffffff" stroke="#b4b4b4" stroke-width="0.6" />
<text x="124.40" y="492.40" font-size="5.2" fill="#8a8a8a" text-anchor="middle" textLength="8.20" lengthAdjust="spacingAndGlyphs" >265</text>
<path d="M151.6 510.1 L162.8 510.1 L162.8 516.3 Q157.2 518.9 151.6 516.3 Z" fill="#ffffff" stroke="#b4b4b4" stroke-width="0.6" />
<text x="157.20" y="515.60" font-size="5.2" fill="#8a8a8a" text-anchor="middle" textLength="8.20" lengthAdjust="spacingAndGlyphs" >401</text>
<path d="M215.2 470.9 L226.4 470.9 L226.4 477.1 Q220.8 479.7 215.2 477.1 Z" fill="#ffffff" stroke="#b4b4b4" stroke-width="0.6" />
<text x="220.80" y="476.40" font-size="5.2" fill="#8a8a8a" text-anchor="middle" textLength="8.20" lengthAdjust="spacingAndGlyphs" >359</text>
<path d="M220.1 486.3 L231.3 486.3 L231.3 492.5 Q225.7 495.1 220.1 492.5 Z" fill="#ffffff" stroke="#b4b4b4" stroke-width="0.6" />
<text x="225.70" y="491.80" font-size="5.2" fill="#8a8a8a" text-anchor="middle" textLength="8.20" lengthAdjust="spacingAndGlyphs" >391</text>
<path d="M247.2 480.9 L258.4 480.9 L258.4 487.1 Q252.8 489.7 247.2 487.1 Z" fill="#ffffff" stroke="#b4b4b4" stroke-width="0.6" />
<text x="252.80" y="486.40" font-size="5.2" fill="#8a8a8a" text-anchor="middle" textLength="8.20" lengthAdjust="spacingAndGlyphs" >434</text>
<path d="M275.8 497.1 L287.0 497.1 L287.0 503.3 Q281.4 505.9 275.8 503.3 Z" fill="#ffffff" stroke="#b4b4b4" stroke-width="0.6" />
<text x="281.40" y="502.60" font-size="5.2" fill="#8a8a8a" text-anchor="middle" textLength="8.20" lengthAdjust="spacingAndGlyphs" >265</text>
<path d="M247.8 544.2 L259.0 544.2 L259.0 550.4 Q253.4 553.0 247.8 550.4 Z" fill="#ffffff" stroke="#b4b4b4" stroke-width="0.6" />
<text x="253.40" y="549.70" font-size="5.2" fill="#8a8a8a" text-anchor="middle" textLength="8.20" lengthAdjust="spacingAndGlyphs" >267</text>
<path d="M170.0 559.2 L181.2 559.2 L181.2 565.4 Q175.6 568.0 170.0 565.4 Z" fill="#ffffff" stroke="#b4b4b4" stroke-width="0.6" />
<text x="175.60" y="564.70" font-size="5.2" fill="#8a8a8a" text-anchor="middle" textLength="8.20" lengthAdjust="spacingAndGlyphs" >381</text>
<path d="M68.4 677.4 L79.6 677.4 L79.6 683.6 Q74.0 686.2 68.4 683.6 Z" fill="#ffffff" stroke="#b4b4b4" stroke-width="0.6" />
<text x="74.00" y="682.90" font-size="5.2" fill="#8a8a8a" text-anchor="middle" textLength="8.20" lengthAdjust="spacingAndGlyphs" >478</text>
<path d="M119.1 681.3 L130.3 681.3 L130.3 687.5 Q124.7 690.1 119.1 687.5 Z" fill="#ffffff" stroke="#b4b4b4" stroke-width="0.6" />
<text x="124.70" y="686.80" font-size="5.2" fill="#8a8a8a" text-anchor="middle" textLength="8.20" lengthAdjust="spacingAndGlyphs" >101</text>
<path d="M58.4 700.0 L69.6 700.0 L69.6 706.2 Q64.0 708.8 58.4 706.2 Z" fill="#ffffff" stroke="#b4b4b4" stroke-width="0.6" />
<text x="64.00" y="705.50" font-size="5.2" fill="#8a8a8a" text-anchor="middle" textLength="8.20" lengthAdjust="spacingAndGlyphs" >78</text>
<text x="135.00" y="528.20" font-size="7.4" fill="#ffffff" text-anchor="middle" textLength="31.00" lengthAdjust="spacingAndGlyphs" stroke="#ffffff" stroke-width="1.6" stroke-linejoin="round">Poços de</text>
<text x="135.00" y="528.20" font-size="7.4" fill="#505050" text-anchor="middle" textLength="31.00" lengthAdjust="spacingAndGlyphs" >Poços de</text>
<text x="135.00" y="535.70" font-size="7.4" fill="#ffffff" text-anchor="middle" textLength="22.00" lengthAdjust="spacingAndGlyphs" stroke="#ffffff" stroke-width="1.6" stroke-linejoin="round">Caldas</text>
<text x="135.00" y="535.70" font-size="7.4" fill="#505050" text-anchor="middle" textLength="22.00" lengthAdjust="spacingAndGlyphs" >Caldas</text>
<circle cx="135.00" cy="538.60" r="1.50" fill="#ffffff" stroke="#606060" stroke-width="0.7"/>
<text x="62.50" y="549.00" font-size="7.6" fill="#ffffff" text-anchor="start" textLength="16.00" lengthAdjust="spacingAndGlyphs" stroke="#ffffff" stroke-width="1.6" stroke-linejoin="round">arlos</text>
<text x="62.50" y="549.00" font-size="7.6" fill="#505050" text-anchor="start" textLength="16.00" lengthAdjust="spacingAndGlyphs" >arlos</text>
<text x="318.80" y="533.30" font-size="7.6" fill="#ffffff" text-anchor="middle" textLength="44.00" lengthAdjust="spacingAndGlyphs" stroke="#ffffff" stroke-width="1.6" stroke-linejoin="round">Juiz de Fora</text>
<text x="318.80" y="533.30" font-size="7.6" fill="#505050" text-anchor="middle" textLength="44.00" lengthAdjust="spacingAndGlyphs" >Juiz de Fora</text>
<circle cx="318.80" cy="537.30" r="1.50" fill="#ffffff" stroke="#606060" stroke-width="0.7"/>
<text x="328.10" y="580.00" font-size="7.6" fill="#ffffff" text-anchor="middle" textLength="37.00" lengthAdjust="spacingAndGlyphs" stroke="#ffffff" stroke-width="1.6" stroke-linejoin="round">Petrópolis</text>
<text x="328.10" y="580.00" font-size="7.6" fill="#505050" text-anchor="middle" textLength="37.00" lengthAdjust="spacingAndGlyphs" >Petrópolis</text>
<circle cx="328.10" cy="583.60" r="1.50" fill="#ffffff" stroke="#606060" stroke-width="0.7"/>
<text x="62.50" y="600.60" font-size="7.6" fill="#ffffff" text-anchor="start" textLength="11.00" lengthAdjust="spacingAndGlyphs" stroke="#ffffff" stroke-width="1.6" stroke-linejoin="round">bao</text>
<text x="62.50" y="600.60" font-size="7.6" fill="#505050" text-anchor="start" textLength="11.00" lengthAdjust="spacingAndGlyphs" >bao</text>
<circle cx="75.50" cy="597.60" r="1.50" fill="#ffffff" stroke="#606060" stroke-width="0.7"/>
<text x="106.00" y="603.60" font-size="9.6" fill="#ffffff" text-anchor="middle" textLength="44.60" lengthAdjust="spacingAndGlyphs" stroke="#ffffff" stroke-width="1.6" stroke-linejoin="round">Campinas</text>
<text x="106.00" y="603.60" font-size="9.6" fill="#505050" text-anchor="middle" textLength="44.60" lengthAdjust="spacingAndGlyphs" >Campinas</text>
<circle cx="106.60" cy="607.70" r="1.50" fill="#ffffff" stroke="#606060" stroke-width="0.7"/>
<text x="173.50" y="615.60" font-size="7.6" fill="#ffffff" text-anchor="middle" textLength="31.00" lengthAdjust="spacingAndGlyphs" stroke="#ffffff" stroke-width="1.6" stroke-linejoin="round">São José</text>
<text x="173.50" y="615.60" font-size="7.6" fill="#505050" text-anchor="middle" textLength="31.00" lengthAdjust="spacingAndGlyphs" >São José</text>
<text x="173.50" y="623.70" font-size="7.6" fill="#ffffff" text-anchor="middle" textLength="42.00" lengthAdjust="spacingAndGlyphs" stroke="#ffffff" stroke-width="1.6" stroke-linejoin="round">dos Campos</text>
<text x="173.50" y="623.70" font-size="7.6" fill="#505050" text-anchor="middle" textLength="42.00" lengthAdjust="spacingAndGlyphs" >dos Campos</text>
<circle cx="172.90" cy="626.70" r="1.50" fill="#ffffff" stroke="#606060" stroke-width="0.7"/>
<text x="116.20" y="621.60" font-size="7.6" fill="#ffffff" text-anchor="middle" textLength="24.00" lengthAdjust="spacingAndGlyphs" stroke="#ffffff" stroke-width="1.6" stroke-linejoin="round">Jundiaí</text>
<text x="116.20" y="621.60" font-size="7.6" fill="#505050" text-anchor="middle" textLength="24.00" lengthAdjust="spacingAndGlyphs" >Jundiaí</text>
<circle cx="116.20" cy="624.80" r="1.50" fill="#ffffff" stroke="#606060" stroke-width="0.7"/>
<text x="130.40" y="643.80" font-size="10.2" fill="#ffffff" text-anchor="middle" textLength="45.20" lengthAdjust="spacingAndGlyphs" stroke="#ffffff" stroke-width="1.6" stroke-linejoin="round">São Paulo</text>
<text x="130.40" y="643.80" font-size="10.2" fill="#505050" text-anchor="middle" textLength="45.20" lengthAdjust="spacingAndGlyphs" >São Paulo</text>
<text x="135.20" y="666.60" font-size="7.6" fill="#ffffff" text-anchor="middle" textLength="45.00" lengthAdjust="spacingAndGlyphs" stroke="#ffffff" stroke-width="1.6" stroke-linejoin="round">São Bernardo</text>
<text x="135.20" y="666.60" font-size="7.6" fill="#505050" text-anchor="middle" textLength="45.00" lengthAdjust="spacingAndGlyphs" >São Bernardo</text>
<text x="135.20" y="674.20" font-size="7.6" fill="#ffffff" text-anchor="middle" textLength="34.00" lengthAdjust="spacingAndGlyphs" stroke="#ffffff" stroke-width="1.6" stroke-linejoin="round">do Campo</text>
<text x="135.20" y="674.20" font-size="7.6" fill="#505050" text-anchor="middle" textLength="34.00" lengthAdjust="spacingAndGlyphs" >do Campo</text>
<circle cx="134.30" cy="656.90" r="1.50" fill="#ffffff" stroke="#606060" stroke-width="0.7"/>
<text x="328.70" y="604.00" font-size="9.6" fill="#ffffff" text-anchor="middle" textLength="64.50" lengthAdjust="spacingAndGlyphs" stroke="#ffffff" stroke-width="1.6" stroke-linejoin="round">Rio de Janeiro</text>
<text x="328.70" y="604.00" font-size="9.6" fill="#505050" text-anchor="middle" textLength="64.50" lengthAdjust="spacingAndGlyphs" >Rio de Janeiro</text>
<circle cx="329.60" cy="607.30" r="1.50" fill="#ffffff" stroke="#606060" stroke-width="0.7"/>
<text x="376.50" y="616.20" font-size="7.6" fill="#ffffff" text-anchor="start" textLength="10.00" lengthAdjust="spacingAndGlyphs" stroke="#ffffff" stroke-width="1.6" stroke-linejoin="round">Ca</text>
<text x="376.50" y="616.20" font-size="7.6" fill="#505050" text-anchor="start" textLength="10.00" lengthAdjust="spacingAndGlyphs" >Ca</text>
<circle cx="131.90" cy="644.80" r="12.20" fill="#f2a563" opacity="0.75"/>
<circle cx="131.90" cy="644.80" r="9.40" fill="#ee8a3c" />
<text x="131.90" y="647.40" font-size="7.4" fill="#ffffff" text-anchor="middle" textLength="12.00" lengthAdjust="spacingAndGlyphs" >305</text>
<circle cx="320.60" cy="600.50" r="12.20" fill="#f2a563" opacity="0.75"/>
<circle cx="320.60" cy="600.50" r="9.40" fill="#ee8a3c" />
<text x="320.60" y="603.10" font-size="7.4" fill="#ffffff" text-anchor="middle" textLength="12.00" lengthAdjust="spacingAndGlyphs" >114</text>
<rect x="69.30" y="477.30" width="20.10" height="39.10" rx="2" fill="#ffffff" stroke="#c8c8c8" stroke-width="0.7"/>
<line x1="69.30" y1="496.60" x2="89.40" y2="496.60" stroke="#e4e4e4" stroke-width="0.7" />
<rect x="75.40" y="486.20" width="8.00" height="1.40" rx="0" fill="#222" />
<rect x="78.70" y="482.90" width="1.40" height="8.00" rx="0" fill="#222" />
<rect x="75.40" y="506.20" width="8.00" height="1.40" rx="0" fill="#444" />
<text x="69.50" y="769.60" font-size="9.6" fill="#ffffff" stroke="#ffffff" stroke-width="0.24" text-anchor="start" textLength="34.70" lengthAdjust="spacingAndGlyphs" stroke="#7c8ba3" stroke-width="0.5" opacity="0.95">Google</text>
</g>
<circle cx="598.90" cy="608.40" r="83.00" fill="none" stroke="#6366e6" stroke-width="41.40"/>
<path d="M594.20 504.81 A103.7 103.7 0 0 1 598.90 504.70 L598.90 546.10 A62.3 62.3 0 0 0 596.07 546.16 Z" fill="#37b3ea" stroke="none" stroke-width="1" />
<line x1="-0.10" y1="0.00" x2="0.00" y2="0.00" stroke="none" stroke-width="1" />
<path d="M596.6 504.6 L596.3 485.4 L594.0 485.4" fill="none" stroke="#37b3ea" stroke-width="0.7" />
<text x="548.00" y="487.20" font-size="7.0" fill="#222" text-anchor="start" textLength="37.50" lengthAdjust="spacingAndGlyphs" >EPADOCA: 3</text>
<path d="M601.4 712.2 L601.4 731.3 L604.4 731.3" fill="none" stroke="#7a7ce0" stroke-width="0.7" />
<text x="610.80" y="733.00" font-size="7.0" fill="#222" text-anchor="start" textLength="35.60" lengthAdjust="spacingAndGlyphs" >IFOOD: 433</text>
<circle cx="554.50" cy="756.40" r="3.70" fill="#6366e6" />
<text x="562.50" y="759.30" font-size="8.0" fill="#23262d" text-anchor="start" textLength="23.00" lengthAdjust="spacingAndGlyphs" >IFOOD</text>
<circle cx="604.70" cy="756.40" r="3.70" fill="#37b3ea" />
<text x="612.40" y="759.30" font-size="8.0" fill="#23262d" text-anchor="start" textLength="35.20" lengthAdjust="spacingAndGlyphs" >EPADOCA</text>
<text x="906.20" y="491.20" font-size="11.0" fill="#5c6479" stroke="#5c6479" stroke-width="0.16" text-anchor="start" textLength="52.00" lengthAdjust="spacingAndGlyphs" >junho 2025</text>
<text x="837.00" y="510.30" font-size="7.8" fill="#5c6479" text-anchor="middle" textLength="13.80" lengthAdjust="spacingAndGlyphs" >Dom</text>
<text x="868.73" y="510.30" font-size="7.8" fill="#5c6479" text-anchor="middle" textLength="13.80" lengthAdjust="spacingAndGlyphs" >Seg</text>
<text x="900.46" y="510.30" font-size="7.8" fill="#5c6479" text-anchor="middle" textLength="13.80" lengthAdjust="spacingAndGlyphs" >Ter</text>
<text x="932.19" y="510.30" font-size="7.8" fill="#5c6479" text-anchor="middle" textLength="13.80" lengthAdjust="spacingAndGlyphs" >Qua</text>
<text x="963.92" y="510.30" font-size="7.8" fill="#5c6479" text-anchor="middle" textLength="13.80" lengthAdjust="spacingAndGlyphs" >Qui</text>
<text x="995.65" y="510.30" font-size="7.8" fill="#5c6479" text-anchor="middle" textLength="13.80" lengthAdjust="spacingAndGlyphs" >Sex</text>
<text x="1027.38" y="510.30" font-size="7.8" fill="#5c6479" text-anchor="middle" textLength="13.80" lengthAdjust="spacingAndGlyphs" >Sáb</text>
<rect x="822.00" y="516.40" width="30.10" height="34.20" rx="2.5" fill="#0b60d1" />
<text x="822.90" y="526.70" font-size="9.0" fill="#ffffff" text-anchor="start" >1</text>
<rect x="853.73" y="516.40" width="30.10" height="34.20" rx="2.5" fill="#a7bde9" />
<text x="854.63" y="526.70" font-size="9.0" fill="#222428" text-anchor="start" >2</text>
<rect x="885.46" y="516.40" width="30.10" height="34.20" rx="2.5" fill="#e2eeff" />
<text x="886.36" y="526.70" font-size="9.0" fill="#222428" text-anchor="start" >3</text>
<rect x="917.19" y="516.40" width="30.10" height="34.20" rx="2.5" fill="#efefef" />
<text x="918.09" y="526.70" font-size="9.0" fill="#222428" text-anchor="start" >4</text>
<rect x="948.92" y="516.40" width="30.10" height="34.20" rx="2.5" fill="#efefef" />
<text x="949.82" y="526.70" font-size="9.0" fill="#222428" text-anchor="start" >5</text>
<rect x="980.65" y="516.40" width="30.10" height="34.20" rx="2.5" fill="#efefef" />
<text x="981.55" y="526.70" font-size="9.0" fill="#222428" text-anchor="start" >6</text>
<rect x="1012.38" y="516.40" width="30.10" height="34.20" rx="2.5" fill="#efefef" />
<text x="1013.28" y="526.70" font-size="9.0" fill="#222428" text-anchor="start" >7</text>
<rect x="822.00" y="552.20" width="30.10" height="34.20" rx="2.5" fill="#efefef" />
<text x="822.90" y="562.50" font-size="9.0" fill="#222428" text-anchor="start" >8</text>
<rect x="853.73" y="552.20" width="30.10" height="34.20" rx="2.5" fill="#efefef" />
<text x="854.63" y="562.50" font-size="9.0" fill="#222428" text-anchor="start" >9</text>
<rect x="885.46" y="552.20" width="30.10" height="34.20" rx="2.5" fill="#efefef" />
<text x="886.36" y="562.50" font-size="9.0" fill="#222428" text-anchor="start" textLength="8.60" lengthAdjust="spacingAndGlyphs" >10</text>
<rect x="917.19" y="552.20" width="30.10" height="34.20" rx="2.5" fill="#efefef" />
<text x="918.09" y="562.50" font-size="9.0" fill="#222428" text-anchor="start" textLength="8.60" lengthAdjust="spacingAndGlyphs" >11</text>
<rect x="948.92" y="552.20" width="30.10" height="34.20" rx="2.5" fill="#efefef" />
<text x="949.82" y="562.50" font-size="9.0" fill="#222428" text-anchor="start" textLength="8.60" lengthAdjust="spacingAndGlyphs" >12</text>
<rect x="980.65" y="552.20" width="30.10" height="34.20" rx="2.5" fill="#efefef" />
<text x="981.55" y="562.50" font-size="9.0" fill="#222428" text-anchor="start" textLength="8.60" lengthAdjust="spacingAndGlyphs" >13</text>
<rect x="1012.38" y="552.20" width="30.10" height="34.20" rx="2.5" fill="#efefef" />
<text x="1013.28" y="562.50" font-size="9.0" fill="#222428" text-anchor="start" textLength="8.60" lengthAdjust="spacingAndGlyphs" >14</text>
<rect x="822.00" y="587.80" width="30.10" height="34.20" rx="2.5" fill="#efefef" />
<text x="822.90" y="598.10" font-size="9.0" fill="#222428" text-anchor="start" textLength="8.60" lengthAdjust="spacingAndGlyphs" >15</text>
<rect x="853.73" y="587.80" width="30.10" height="34.20" rx="2.5" fill="#efefef" />
<text x="854.63" y="598.10" font-size="9.0" fill="#222428" text-anchor="start" textLength="8.60" lengthAdjust="spacingAndGlyphs" >16</text>
<rect x="885.46" y="587.80" width="30.10" height="34.20" rx="2.5" fill="#efefef" />
<text x="886.36" y="598.10" font-size="9.0" fill="#222428" text-anchor="start" textLength="8.60" lengthAdjust="spacingAndGlyphs" >17</text>
<rect x="917.19" y="587.80" width="30.10" height="34.20" rx="2.5" fill="#efefef" />
<text x="918.09" y="598.10" font-size="9.0" fill="#222428" text-anchor="start" textLength="8.60" lengthAdjust="spacingAndGlyphs" >18</text>
<rect x="948.92" y="587.80" width="30.10" height="34.20" rx="2.5" fill="#efefef" />
<text x="949.82" y="598.10" font-size="9.0" fill="#222428" text-anchor="start" textLength="8.60" lengthAdjust="spacingAndGlyphs" >19</text>
<rect x="980.65" y="587.80" width="30.10" height="34.20" rx="2.5" fill="#efefef" />
<text x="981.55" y="598.10" font-size="9.0" fill="#222428" text-anchor="start" textLength="8.60" lengthAdjust="spacingAndGlyphs" >20</text>
<rect x="1012.38" y="587.80" width="30.10" height="34.20" rx="2.5" fill="#efefef" />
<text x="1013.28" y="598.10" font-size="9.0" fill="#222428" text-anchor="start" textLength="8.60" lengthAdjust="spacingAndGlyphs" >21</text>
<rect x="822.00" y="623.10" width="30.10" height="34.20" rx="2.5" fill="#efefef" />
<text x="822.90" y="633.40" font-size="9.0" fill="#222428" text-anchor="start" textLength="8.60" lengthAdjust="spacingAndGlyphs" >22</text>
<rect x="853.73" y="623.10" width="30.10" height="34.20" rx="2.5" fill="#efefef" />
<text x="854.63" y="633.40" font-size="9.0" fill="#222428" text-anchor="start" textLength="8.60" lengthAdjust="spacingAndGlyphs" >23</text>
<rect x="885.46" y="623.10" width="30.10" height="34.20" rx="2.5" fill="#efefef" />
<text x="886.36" y="633.40" font-size="9.0" fill="#222428" text-anchor="start" textLength="8.60" lengthAdjust="spacingAndGlyphs" >24</text>
<rect x="917.19" y="623.10" width="30.10" height="34.20" rx="2.5" fill="#efefef" />
<text x="918.09" y="633.40" font-size="9.0" fill="#222428" text-anchor="start" textLength="8.60" lengthAdjust="spacingAndGlyphs" >25</text>
<rect x="948.92" y="623.10" width="30.10" height="34.20" rx="2.5" fill="#efefef" />
<text x="949.82" y="633.40" font-size="9.0" fill="#222428" text-anchor="start" textLength="8.60" lengthAdjust="spacingAndGlyphs" >26</text>
<rect x="980.65" y="623.10" width="30.10" height="34.20" rx="2.5" fill="#efefef" />
<text x="981.55" y="633.40" font-size="9.0" fill="#222428" text-anchor="start" textLength="8.60" lengthAdjust="spacingAndGlyphs" >27</text>
<rect x="1012.38" y="623.10" width="30.10" height="34.20" rx="2.5" fill="#efefef" />
<text x="1013.28" y="633.40" font-size="9.0" fill="#222428" text-anchor="start" textLength="8.60" lengthAdjust="spacingAndGlyphs" >28</text>
<rect x="822.00" y="658.60" width="30.10" height="34.20" rx="2.5" fill="#efefef" />
<text x="822.90" y="668.90" font-size="9.0" fill="#222428" text-anchor="start" textLength="8.60" lengthAdjust="spacingAndGlyphs" >29</text>
<rect x="853.73" y="658.60" width="30.10" height="34.20" rx="2.5" fill="#efefef" />
<text x="854.63" y="668.90" font-size="9.0" fill="#222428" text-anchor="start" textLength="8.60" lengthAdjust="spacingAndGlyphs" >30</text>
<text x="851.60" y="546.20" font-size="7.4" fill="#ffffff" stroke="#ffffff" stroke-width="0.24" text-anchor="end" textLength="11.20" lengthAdjust="spacingAndGlyphs" >297</text>
<text x="882.80" y="546.20" font-size="7.4" fill="#222428" stroke="#222428" stroke-width="0.24" text-anchor="end" textLength="10.80" lengthAdjust="spacingAndGlyphs" >134</text>
<text x="914.40" y="546.20" font-size="7.4" fill="#222428" stroke="#222428" stroke-width="0.24" text-anchor="end" >5</text>
<text x="90.80" y="843.60" font-size="7.8" fill="#6b6f78" text-anchor="start" textLength="26.10" lengthAdjust="spacingAndGlyphs" >Período</text>
<rect x="120.70" y="833.70" width="21.00" height="13.70" rx="1.5" fill="#f3f3f4" />
<text x="131.20" y="843.60" font-size="7.8" fill="#333" text-anchor="middle" textLength="16.80" lengthAdjust="spacingAndGlyphs" >Tudo</text>
<rect x="144.40" y="833.70" width="19.90" height="13.70" rx="1.5" fill="#f3f3f4" />
<text x="154.35" y="843.60" font-size="7.8" fill="#333" text-anchor="middle" textLength="9.60" lengthAdjust="spacingAndGlyphs" >1m</text>
<rect x="167.80" y="833.70" width="20.40" height="13.70" rx="1.5" fill="#f3f3f4" />
<text x="178.00" y="843.60" font-size="7.8" fill="#333" text-anchor="middle" textLength="9.60" lengthAdjust="spacingAndGlyphs" >3m</text>
<rect x="191.00" y="833.70" width="20.40" height="13.70" rx="1.5" fill="#f3f3f4" />
<text x="201.20" y="843.60" font-size="7.8" fill="#333" text-anchor="middle" textLength="9.60" lengthAdjust="spacingAndGlyphs" >6m</text>
<rect x="214.80" y="833.70" width="19.90" height="13.70" rx="1.5" fill="#e4e4fb" />
<text x="224.75" y="843.60" font-size="7.8" fill="#222" font-weight="bold" text-anchor="middle" textLength="14.80" lengthAdjust="spacingAndGlyphs" >YTD</text>
<rect x="238.00" y="833.70" width="19.90" height="13.70" rx="1.5" fill="#f3f3f4" />
<text x="247.95" y="843.60" font-size="7.8" fill="#333" text-anchor="middle" textLength="7.60" lengthAdjust="spacingAndGlyphs" >1a</text>
<rect x="906.60" y="810.60" width="10.80" height="11.00" rx="1.6" fill="#ffffff" stroke="#5a5f6a" stroke-width="0.9"/>
<path d="M909 816.2 L911.2 818.6 L915.2 813.4" fill="none" stroke="#3c4150" stroke-width="1.0" stroke-linecap="round" stroke-linejoin="round"/>
<text x="920.90" y="819.40" font-size="9.4" fill="#4a5162" text-anchor="start" textLength="76.60" lengthAdjust="spacingAndGlyphs" >Mostrar Tendência</text>
<rect x="1007.10" y="808.90" width="40.20" height="13.90" rx="2.5" fill="#e6e8ec" />
<text x="1027.20" y="818.40" font-size="7.2" fill="#30343c" text-anchor="middle" textLength="30.50" lengthAdjust="spacingAndGlyphs" >Detalhes</text>
<text x="925.60" y="843.40" font-size="7.8" fill="#444" text-anchor="start" textLength="9.40" lengthAdjust="spacingAndGlyphs" >De</text>
<text x="942.30" y="843.40" font-size="7.8" fill="#3b3fd6" text-anchor="start" textLength="36.70" lengthAdjust="spacingAndGlyphs" >1 Jan 2025</text>
<text x="987.00" y="843.40" font-size="7.8" fill="#444" text-anchor="start" textLength="10.50" lengthAdjust="spacingAndGlyphs" >Até</text>
<text x="1004.90" y="843.40" font-size="7.8" fill="#3b3fd6" text-anchor="start" textLength="37.90" lengthAdjust="spacingAndGlyphs" >2 Ago 2025</text>
<line x1="433.50" y1="866.10" x2="444.00" y2="866.10" stroke="#6d6fd8" stroke-width="1.5" />
<text x="447.30" y="868.80" font-size="8.0" fill="#23262d" text-anchor="start" textLength="70.90" lengthAdjust="spacingAndGlyphs" >Clientes - Histórico</text>
<line x1="532.50" y1="866.10" x2="541.90" y2="866.10" stroke="#3bbf8c" stroke-width="1.5" />
<text x="545.80" y="868.80" font-size="8.0" fill="#23262d" text-anchor="start" textLength="67.40" lengthAdjust="spacingAndGlyphs" >Clientes - Previsto</text>
<line x1="627.00" y1="866.10" x2="630.60" y2="866.10" stroke="#3bbf8c" stroke-width="1.5" />
<line x1="634.20" y1="866.10" x2="636.70" y2="866.10" stroke="#3bbf8c" stroke-width="1.5" />
<text x="640.80" y="868.80" font-size="8.0" fill="#23262d" text-anchor="start" textLength="39.10" lengthAdjust="spacingAndGlyphs" >Tendência</text>
<line x1="90.40" y1="881.20" x2="1046.70" y2="881.20" stroke="#ececec" stroke-width="0.7" />
<line x1="90.40" y1="903.80" x2="1046.70" y2="903.80" stroke="#ececec" stroke-width="0.7" />
<line x1="90.40" y1="926.40" x2="1046.70" y2="926.40" stroke="#ececec" stroke-width="0.7" />
<line x1="90.40" y1="948.00" x2="1046.70" y2="948.00" stroke="#dedede" stroke-width="0.8" />
<text x="81.50" y="903.80" font-size="7.8" fill="#9a9a9a" text-anchor="end" textLength="7.30" lengthAdjust="spacingAndGlyphs" >1k</text>
<text x="80.20" y="925.30" font-size="7.8" fill="#9a9a9a" text-anchor="end" >0</text>
<text x="81.50" y="947.40" font-size="7.8" fill="#9a9a9a" text-anchor="end" textLength="10.60" lengthAdjust="spacingAndGlyphs" >-1k</text>
<line x1="157.00" y1="948.00" x2="157.00" y2="953.80" stroke="#888" stroke-width="0.8" />
<text x="157.00" y="965.00" font-size="7.8" fill="#9a9ea8" text-anchor="middle" textLength="22.50" lengthAdjust="spacingAndGlyphs" >13 Jan</text>
<line x1="235.00" y1="948.00" x2="235.00" y2="953.80" stroke="#888" stroke-width="0.8" />
<text x="235.00" y="965.00" font-size="7.8" fill="#9a9ea8" text-anchor="middle" textLength="22.50" lengthAdjust="spacingAndGlyphs" >27 Jan</text>
<line x1="312.30" y1="948.00" x2="312.30" y2="953.80" stroke="#888" stroke-width="0.8" />
<text x="312.30" y="965.00" font-size="7.8" fill="#9a9ea8" text-anchor="middle" textLength="22.50" lengthAdjust="spacingAndGlyphs" >10 Fev</text>
<line x1="391.00" y1="948.00" x2="391.00" y2="953.80" stroke="#888" stroke-width="0.8" />
<text x="391.00" y="965.00" font-size="7.8" fill="#9a9ea8" text-anchor="middle" textLength="22.50" lengthAdjust="spacingAndGlyphs" >24 Fev</text>
<line x1="467.40" y1="948.00" x2="467.40" y2="953.80" stroke="#888" stroke-width="0.8" />
<text x="467.40" y="965.00" font-size="7.8" fill="#9a9ea8" text-anchor="middle" textLength="22.50" lengthAdjust="spacingAndGlyphs" >10 Mar</text>
<line x1="563.50" y1="948.00" x2="563.50" y2="953.80" stroke="#888" stroke-width="0.8" />
<text x="563.50" y="965.00" font-size="7.8" fill="#9a9ea8" text-anchor="middle" textLength="18.75" lengthAdjust="spacingAndGlyphs" >5 Mai</text>
<line x1="629.40" y1="948.00" x2="629.40" y2="953.80" stroke="#888" stroke-width="0.8" />
<text x="629.40" y="965.00" font-size="7.8" fill="#9a9ea8" text-anchor="middle" textLength="22.50" lengthAdjust="spacingAndGlyphs" >19 Mai</text>
<line x1="706.40" y1="948.00" x2="706.40" y2="953.80" stroke="#888" stroke-width="0.8" />
<text x="706.40" y="965.00" font-size="7.8" fill="#9a9ea8" text-anchor="middle" textLength="18.75" lengthAdjust="spacingAndGlyphs" >2 Jun</text>
<line x1="784.50" y1="948.00" x2="784.50" y2="953.80" stroke="#888" stroke-width="0.8" />
<text x="784.50" y="965.00" font-size="7.8" fill="#9a9ea8" text-anchor="middle" textLength="22.50" lengthAdjust="spacingAndGlyphs" >16 Jun</text>
<line x1="861.60" y1="948.00" x2="861.60" y2="953.80" stroke="#888" stroke-width="0.8" />
<text x="861.60" y="965.00" font-size="7.8" fill="#9a9ea8" text-anchor="middle" textLength="22.50" lengthAdjust="spacingAndGlyphs" >30 Jun</text>
<line x1="939.50" y1="948.00" x2="939.50" y2="953.80" stroke="#888" stroke-width="0.8" />
<text x="939.50" y="965.00" font-size="7.8" fill="#9a9ea8" text-anchor="middle" textLength="22.50" lengthAdjust="spacingAndGlyphs" >14 Jul</text>
<line x1="1017.60" y1="948.00" x2="1017.60" y2="953.80" stroke="#888" stroke-width="0.8" />
<text x="1017.60" y="965.00" font-size="7.8" fill="#9a9ea8" text-anchor="middle" textLength="22.50" lengthAdjust="spacingAndGlyphs" >28 Jul</text>
<path d="M91.3 921.3 L96.2 907.9 L99.5 906.3 L112.9 905.7 L119.6 910.8 L131.9 909.7 L146.4 905.7 L158.7 911.3 L163.1 912.4 L178.8 907.9 L189.9 904.1 L196.6 909.5 L201.1 908.6 L216.7 909.0 L227.9 903.0 L232.4 903.4 L235.7 911.3 L243.5 911.3 L257.0 904.6 L268.1 901.4 L274.8 911.3 L292.6 909.7 L308.3 900.5 L312.7 909.0 L319.4 910.8 L330.0 910.3 L344.6 901.8 L350.1 902.9 L352.4 909.6 L356.8 911.2 L368.0 908.5 L385.9 899.1 L390.3 910.7 L404.8 908.0 L413.8 901.3 L425.0 899.1 L430.5 902.9 L436.1 899.1 L452.8 904.0 L458.4 900.7 L467.4 901.3 L469.6 907.4 L486.3 903.6 L500.8 894.0 L504.2 895.1 L507.5 905.1 L517.6 903.6 L519.8 908.5 L529.9 925.9 L593.7 925.9 L598.1 924.6 L603.7 922.6 L613.8 921.2 L622.7 920.8 L629.4 923.0 L645.0 922.6 L654.0 920.8 L662.9 921.2 L668.5 922.6 L685.2 921.9 L690.8 920.3 L702.0 919.7 L707.5 923.0 L713.1 926.4" fill="none" stroke="#6b6dd8" stroke-width="1.2" stroke-linejoin="round"/>
<path d="M718.4 917.3 L726.8 915.6 L735.1 911.4 L741.0 911.4 L746.0 918.1 L753.6 918.6 L763.6 918.1 L770.3 914.0 L777.0 911.9 L780.4 912.3 L784.5 919.0 L793.8 919.5 L803.8 918.6 L810.5 914.3 L817.2 912.3 L821.4 919.0 L827.3 919.8 L837.3 919.0 L844.0 915.3 L852.4 913.1 L856.6 913.6 L860.8 919.8 L867.5 920.3 L877.5 919.0 L889.4 913.7 L896.5 913.7 L900.9 920.8 L916.0 920.8 L923.0 916.4 L931.0 914.6 L935.4 915.5 L939.8 921.7 L954.8 920.8 L961.9 916.7 L972.5 914.6 L976.9 921.7 L993.7 921.7 L1000.8 916.9 L1011.4 915.5 L1015.8 921.7 L1029.1 922.5 L1037.9 919.0 L1046.7 916.7 L1046.7 925.9 L1037.9 928.2 L1029.1 931.7 L1015.8 930.9 L1011.4 924.7 L1000.8 926.1 L993.7 930.9 L976.9 930.9 L972.5 923.8 L961.9 925.9 L954.8 930.0 L939.8 930.9 L935.4 924.7 L931.0 923.8 L923.0 925.6 L916.0 930.0 L900.9 930.0 L896.5 922.9 L889.4 922.9 L877.5 928.2 L867.5 929.5 L860.8 929.0 L856.6 922.8 L852.4 922.3 L844.0 924.5 L837.3 928.2 L827.3 929.0 L821.4 928.2 L817.2 921.5 L810.5 923.5 L803.8 927.8 L793.8 928.7 L784.5 928.2 L780.4 921.5 L777.0 921.1 L770.3 923.2 L763.6 927.3 L753.6 927.8 L746.0 927.3 L741.0 920.6 L735.1 920.6 L726.8 924.8 L718.4 926.5 Z" fill="#9fe3c6" stroke="none" stroke-width="1" opacity="0.75"/>
<path d="M718.4 920.4 L1046.7 923.8" fill="none" stroke="#2fb17f" stroke-width="1.0" stroke-dasharray="3.2 2.6"/>
<path d="M718.4 921.9 L726.8 920.2 L735.1 916.0 L741.0 916.0 L746.0 922.7 L753.6 923.2 L763.6 922.7 L770.3 918.6 L777.0 916.5 L780.4 916.9 L784.5 923.6 L793.8 924.1 L803.8 923.2 L810.5 918.9 L817.2 916.9 L821.4 923.6 L827.3 924.4 L837.3 923.6 L844.0 919.9 L852.4 917.7 L856.6 918.2 L860.8 924.4 L867.5 924.9 L877.5 923.6 L889.4 918.3 L896.5 918.3 L900.9 925.4 L916.0 925.4 L923.0 921.0 L931.0 919.2 L935.4 920.1 L939.8 926.3 L954.8 925.4 L961.9 921.3 L972.5 919.2 L976.9 926.3 L993.7 926.3 L1000.8 921.5 L1011.4 920.1 L1015.8 926.3 L1029.1 927.1 L1037.9 923.6 L1046.7 921.3" fill="none" stroke="#2fb582" stroke-width="1.4" stroke-linejoin="round"/>
<text x="96.20" y="904.20" font-size="6.5" fill="#111" font-weight="bold" text-anchor="middle" >831</text>
<text x="96.20" y="917.60" font-size="6.5" fill="#111" font-weight="bold" text-anchor="middle" >221</text>
<text x="112.90" y="901.90" font-size="6.5" fill="#111" font-weight="bold" text-anchor="middle" >934</text>
<text x="129.20" y="906.90" font-size="6.5" fill="#111" font-weight="bold" text-anchor="middle" >707</text>
<text x="146.40" y="901.90" font-size="6.5" fill="#111" font-weight="bold" text-anchor="middle" >935</text>
<text x="162.00" y="908.60" font-size="6.5" fill="#111" font-weight="bold" text-anchor="middle" >631</text>
<text x="179.90" y="904.00" font-size="6.5" fill="#111" font-weight="bold" text-anchor="middle" >866</text>
<text x="196.00" y="906.90" font-size="6.5" fill="#111" font-weight="bold" text-anchor="middle" >718</text>
<text x="212.90" y="905.70" font-size="6.5" fill="#111" font-weight="bold" text-anchor="middle" >757</text>
<text x="229.70" y="899.00" font-size="6.5" fill="#111" font-weight="bold" text-anchor="middle" >1.054</text>
<text x="234.60" y="908.00" font-size="6.5" fill="#111" font-weight="bold" text-anchor="middle" >654</text>
<text x="251.30" y="904.20" font-size="6.5" fill="#111" font-weight="bold" text-anchor="middle" >819</text>
<text x="268.50" y="898.40" font-size="6.5" fill="#111" font-weight="bold" text-anchor="middle" >1.121</text>
<text x="273.70" y="908.00" font-size="6.5" fill="#111" font-weight="bold" text-anchor="middle" >668</text>
<text x="290.00" y="906.90" font-size="6.5" fill="#111" font-weight="bold" text-anchor="middle" >718</text>
<text x="301.60" y="899.00" font-size="6.5" fill="#111" font-weight="bold" text-anchor="middle" >1.050</text>
<text x="313.20" y="906.90" font-size="6.5" fill="#111" font-weight="bold" text-anchor="middle" >728</text>
<text x="328.90" y="906.80" font-size="6.5" fill="#111" font-weight="bold" text-anchor="middle" >713</text>
<text x="340.10" y="899.20" font-size="6.5" fill="#111" font-weight="bold" text-anchor="middle" >1.049</text>
<text x="351.30" y="906.80" font-size="6.5" fill="#111" font-weight="bold" text-anchor="middle" >711</text>
<text x="368.70" y="905.20" font-size="6.5" fill="#111" font-weight="bold" text-anchor="middle" >787</text>
<text x="384.70" y="895.60" font-size="6.5" fill="#111" font-weight="bold" text-anchor="middle" >1.193</text>
<text x="390.30" y="907.00" font-size="6.5" fill="#111" font-weight="bold" text-anchor="middle" >686</text>
<text x="407.10" y="903.00" font-size="6.5" fill="#111" font-weight="bold" text-anchor="middle" >879</text>
<text x="418.20" y="896.30" font-size="6.5" fill="#111" font-weight="bold" text-anchor="middle" >1.197</text>
<text x="440.60" y="898.10" font-size="6.5" fill="#111" font-weight="bold" text-anchor="middle" >1.108</text>
<text x="462.90" y="897.40" font-size="6.5" fill="#111" font-weight="bold" text-anchor="middle" >1.144</text>
<text x="467.80" y="904.10" font-size="6.5" fill="#111" font-weight="bold" text-anchor="middle" >823</text>
<text x="485.20" y="900.30" font-size="6.5" fill="#111" font-weight="bold" text-anchor="middle" >1.005</text>
<text x="495.90" y="892.50" font-size="6.5" fill="#111" font-weight="bold" text-anchor="middle" >1.361</text>
<text x="507.50" y="902.30" font-size="6.5" fill="#111" font-weight="bold" text-anchor="middle" >928</text>
<text x="523.60" y="913.00" font-size="6.5" fill="#111" font-weight="bold" text-anchor="middle" >416</text>
<text x="601.50" y="919.30" font-size="6.5" fill="#111" font-weight="bold" text-anchor="middle" >155</text>
<text x="618.20" y="917.90" font-size="6.5" fill="#111" font-weight="bold" text-anchor="middle" >238</text>
<text x="635.00" y="919.30" font-size="6.5" fill="#111" font-weight="bold" text-anchor="middle" >141</text>
<text x="651.30" y="917.90" font-size="6.5" fill="#111" font-weight="bold" text-anchor="middle" >235</text>
<text x="668.50" y="918.80" font-size="6.5" fill="#111" font-weight="bold" text-anchor="middle" >158</text>
<text x="685.20" y="918.80" font-size="6.5" fill="#111" font-weight="bold" text-anchor="middle" >183</text>
<text x="701.30" y="916.40" font-size="6.5" fill="#111" font-weight="bold" text-anchor="middle" >294</text>
<text x="712.00" y="922.00" font-size="6.5" fill="#111" font-weight="bold" text-anchor="middle" >5</text>
<text x="723.40" y="917.50" font-size="6.5" fill="#111" font-weight="bold" text-anchor="middle" >214</text>
<text x="740.20" y="912.50" font-size="6.5" fill="#111" font-weight="bold" text-anchor="middle" >446</text>
<text x="746.00" y="919.20" font-size="6.5" fill="#111" font-weight="bold" text-anchor="middle" >134</text>
<text x="762.80" y="918.00" font-size="6.5" fill="#111" font-weight="bold" text-anchor="middle" >186</text>
<text x="778.70" y="913.00" font-size="6.5" fill="#111" font-weight="bold" text-anchor="middle" >418</text>
<text x="784.90" y="920.00" font-size="6.5" fill="#111" font-weight="bold" text-anchor="middle" >106</text>
<text x="801.80" y="918.80" font-size="6.5" fill="#111" font-weight="bold" text-anchor="middle" >158</text>
<text x="818.00" y="913.80" font-size="6.5" fill="#111" font-weight="bold" text-anchor="middle" >390</text>
<text x="823.90" y="920.90" font-size="6.5" fill="#111" font-weight="bold" text-anchor="middle" >78</text>
<text x="834.80" y="920.90" font-size="6.5" fill="#111" font-weight="bold" text-anchor="middle" >86</text>
<text x="845.30" y="916.20" font-size="6.5" fill="#111" font-weight="bold" text-anchor="middle" >279</text>
<text x="862.40" y="921.20" font-size="6.5" fill="#111" font-weight="bold" text-anchor="middle" >50</text>
<text x="873.30" y="921.20" font-size="6.5" fill="#111" font-weight="bold" text-anchor="middle" >58</text>
<text x="884.10" y="917.10" font-size="6.5" fill="#111" font-weight="bold" text-anchor="middle" >251</text>
<text x="901.50" y="922.40" font-size="6.5" fill="#111" font-weight="bold" text-anchor="middle" >22</text>
<text x="912.40" y="922.40" font-size="6.5" fill="#111" font-weight="bold" text-anchor="middle" >30</text>
<text x="923.40" y="917.60" font-size="6.5" fill="#111" font-weight="bold" text-anchor="middle" >223</text>
<text x="940.30" y="922.90" font-size="6.5" fill="#111" font-weight="bold" text-anchor="middle" >-5</text>
<text x="951.30" y="922.90" font-size="6.5" fill="#111" font-weight="bold" text-anchor="middle" >2</text>
<text x="962.40" y="918.30" font-size="6.5" fill="#111" font-weight="bold" text-anchor="middle" >195</text>
<text x="978.70" y="923.30" font-size="6.5" fill="#111" font-weight="bold" text-anchor="middle" >-33</text>
<text x="990.20" y="923.30" font-size="6.5" fill="#111" font-weight="bold" text-anchor="middle" >-25</text>
<text x="1006.10" y="917.10" font-size="6.5" fill="#111" font-weight="bold" text-anchor="middle" >245</text>
<text x="1017.60" y="924.10" font-size="6.5" fill="#111" font-weight="bold" text-anchor="middle" >-61</text>
<text x="1028.70" y="924.10" font-size="6.5" fill="#111" font-weight="bold" text-anchor="middle" >-53</text>
<text x="529.20" y="922.80" font-size="6.5" fill="#111" font-weight="bold" text-anchor="middle" >1</text>
<text x="534.70" y="922.80" font-size="6.5" fill="#111" font-weight="bold" text-anchor="middle" >1</text>
<text x="540.20" y="922.80" font-size="6.5" fill="#111" font-weight="bold" text-anchor="middle" >1</text>
<text x="545.70" y="922.80" font-size="6.5" fill="#111" font-weight="bold" text-anchor="middle" >1</text>
<text x="551.20" y="922.80" font-size="6.5" fill="#111" font-weight="bold" text-anchor="middle" >2</text>
<text x="556.70" y="922.80" font-size="6.5" fill="#111" font-weight="bold" text-anchor="middle" >2</text>
<text x="562.20" y="922.80" font-size="6.5" fill="#111" font-weight="bold" text-anchor="middle" >1</text>
<text x="567.70" y="922.80" font-size="6.5" fill="#111" font-weight="bold" text-anchor="middle" >3</text>
<text x="573.20" y="922.80" font-size="6.5" fill="#111" font-weight="bold" text-anchor="middle" >4</text>
<text x="578.70" y="922.80" font-size="6.5" fill="#111" font-weight="bold" text-anchor="middle" >5</text>
<text x="584.20" y="922.80" font-size="6.5" fill="#111" font-weight="bold" text-anchor="middle" >3</text>
<text x="589.70" y="922.80" font-size="6.5" fill="#111" font-weight="bold" text-anchor="middle" >1</text>
<rect x="90.40" y="981.80" width="956.30" height="26.00" rx="0" fill="#f4f5fb" />
<line x1="90.40" y1="981.80" x2="1046.70" y2="981.80" stroke="#d8d9de" stroke-width="0.8" />
<line x1="90.40" y1="1007.80" x2="1046.70" y2="1007.80" stroke="#e2e3e8" stroke-width="0.6" />
<rect x="830.80" y="981.80" width="214.90" height="26.00" rx="0" fill="#c8c9f7" />
<line x1="130.50" y1="981.80" x2="130.50" y2="1007.80" stroke="#dcdde6" stroke-width="0.6" />
<text x="132.30" y="1004.60" font-size="6.4" fill="#444" stroke="#444" stroke-width="0.16" text-anchor="start" textLength="23.10" lengthAdjust="spacingAndGlyphs" >Jan &#x27;24</text>
<line x1="245.60" y1="981.80" x2="245.60" y2="1007.80" stroke="#dcdde6" stroke-width="0.6" />
<text x="247.40" y="1004.60" font-size="6.4" fill="#444" stroke="#444" stroke-width="0.16" text-anchor="start" textLength="23.10" lengthAdjust="spacingAndGlyphs" >Mar &#x27;24</text>
<line x1="362.30" y1="981.80" x2="362.30" y2="1007.80" stroke="#dcdde6" stroke-width="0.6" />
<text x="364.10" y="1004.60" font-size="6.4" fill="#444" stroke="#444" stroke-width="0.16" text-anchor="start" textLength="23.10" lengthAdjust="spacingAndGlyphs" >Mai &#x27;24</text>
<line x1="479.40" y1="981.80" x2="479.40" y2="1007.80" stroke="#dcdde6" stroke-width="0.6" />
<text x="481.20" y="1004.60" font-size="6.4" fill="#444" stroke="#444" stroke-width="0.16" text-anchor="start" textLength="23.10" lengthAdjust="spacingAndGlyphs" >Jul &#x27;24</text>
<line x1="598.00" y1="981.80" x2="598.00" y2="1007.80" stroke="#dcdde6" stroke-width="0.6" />
<text x="599.80" y="1004.60" font-size="6.4" fill="#444" stroke="#444" stroke-width="0.16" text-anchor="start" textLength="23.10" lengthAdjust="spacingAndGlyphs" >Set &#x27;24</text>
<line x1="714.30" y1="981.80" x2="714.30" y2="1007.80" stroke="#dcdde6" stroke-width="0.6" />
<text x="716.10" y="1004.60" font-size="6.4" fill="#444" stroke="#444" stroke-width="0.16" text-anchor="start" textLength="23.10" lengthAdjust="spacingAndGlyphs" >Nov &#x27;24</text>
<line x1="830.80" y1="981.80" x2="830.80" y2="1007.80" stroke="#dcdde6" stroke-width="0.6" />
<text x="832.60" y="1004.60" font-size="6.4" fill="#444" stroke="#444" stroke-width="0.16" text-anchor="start" textLength="23.10" lengthAdjust="spacingAndGlyphs" >Jan &#x27;25</text>
<line x1="994.90" y1="981.80" x2="994.90" y2="1007.80" stroke="#dcdde6" stroke-width="0.6" />
<text x="996.70" y="1004.60" font-size="6.4" fill="#444" stroke="#444" stroke-width="0.16" text-anchor="start" textLength="23.10" lengthAdjust="spacingAndGlyphs" >Jul &#x27;25</text>
<path d="M90.4 988.3 L92.2 987.1 L94.1 990.6 L95.9 986.5 L97.8 989.8 L99.6 988.6 L101.5 997.3 L103.3 994.1 L105.2 982.6 L107.0 985.1 L108.9 992.7 L110.7 997.3 L112.6 992.0 L114.4 985.7 L116.3 984.8 L118.1 995.0 L120.0 999.6 L121.8 992.9 L123.7 984.0 L125.5 987.6 L127.4 1000.0 L129.2 995.9 L131.1 990.7 L132.9 991.4 L134.8 986.3 L136.6 989.4 L138.5 993.6 L140.3 995.2 L142.2 993.7 L144.0 994.5 L145.9 992.3 L147.7 986.8 L149.6 990.5 L151.4 993.0 L153.3 993.4 L155.1 993.8 L157.0 994.8 L158.8 991.8 L160.7 986.7 L162.5 990.5 L164.4 993.9 L166.2 994.0 L168.1 995.2 L169.9 994.8 L171.8 991.3 L173.6 987.3 L175.5 990.4 L177.3 994.9 L179.2 995.0 L181.0 994.0 L182.9 995.5 L184.7 991.0 L186.6 986.9 L188.4 991.0 L190.3 993.2 L192.1 994.5 L194.0 993.4 L195.8 994.7 L197.7 992.6 L199.5 987.3 L201.4 991.2 L203.2 993.6 L205.1 995.0 L206.9 994.7 L208.8 994.5 L210.6 991.8 L212.5 988.0 L214.3 991.4 L216.2 994.0 L218.0 994.9 L219.9 993.4 L221.7 994.8 L223.6 992.3 L225.4 988.3 L227.3 991.1 L229.1 993.5 L231.0 994.2 L232.8 994.9 L234.7 993.2 L236.5 991.9 L238.4 986.3 L240.2 989.4 L242.1 993.0 L243.9 995.1 L245.8 993.6 L247.6 993.7 L249.5 991.7 L251.3 988.0 L253.2 989.3 L255.0 993.9 L256.9 994.6 L258.7 995.4 L260.6 995.1 L262.4 992.8 L264.3 986.6 L266.1 990.1 L268.0 993.7 L269.8 995.4 L271.7 995.6 L273.5 993.5 L275.4 991.2 L277.2 986.5 L279.1 989.7 L280.9 994.0 L282.8 994.7 L284.6 993.9 L286.5 993.1 L288.3 991.8 L290.2 986.8 L292.0 990.5 L293.9 995.1 L295.8 994.9 L297.6 994.5 L299.5 994.6 L301.3 992.4 L303.2 986.1 L305.0 991.3 L306.9 994.7 L308.7 995.4 L310.6 995.2 L312.4 994.1 L314.3 991.7 L316.1 986.2 L318.0 990.7 L319.8 993.0 L321.7 993.5 L323.5 993.8 L325.4 993.5 L327.2 991.6 L329.1 986.1 L330.9 989.1 L332.8 993.2 L334.6 993.5 L336.5 994.2 L338.3 993.2 L340.2 992.9 L342.0 987.4 L343.9 989.5 L345.7 993.4 L347.6 994.1 L349.4 994.2 L351.3 993.4 L353.1 992.8 L355.0 988.3 L356.8 990.3 L358.7 994.0 L360.5 993.5 L362.4 993.5 L364.2 994.0 L366.1 991.4 L367.9 987.9 L369.8 989.5 L371.6 992.9 L373.5 995.6 L375.3 994.6 L377.2 993.5 L379.0 992.1 L380.9 986.0 L382.7 990.4 L384.6 995.2 L386.4 995.4 L388.3 995.0 L390.1 993.8 L392.0 991.6 L393.8 986.3 L395.7 991.0 L397.5 994.1 L399.4 995.2 L401.2 994.1 L403.1 993.7 L404.9 992.7 L406.8 988.3 L408.6 991.2 L410.5 994.8 L412.3 995.3 L414.2 995.1 L416.0 993.7 L417.9 992.0 L419.7 986.8 L421.6 989.2 L423.4 992.9 L425.3 994.0 L427.1 993.9 L429.0 994.8 L430.8 993.0 L432.7 987.0 L434.5 991.4 L436.4 995.2 L438.2 995.6 L440.1 994.2 L441.9 993.7 L443.8 991.3 L445.6 986.4 L447.5 989.6 L449.3 994.3 L451.2 995.5 L453.0 995.3 L454.9 994.3 L456.7 992.3 L458.6 987.9 L460.4 989.3 L462.3 994.4 L464.1 995.5 L466.0 995.2 L467.8 994.9 L469.7 991.9 L471.5 986.4 L473.4 991.0 L475.2 993.6 L477.1 995.2 L478.9 995.6 L480.8 994.1 L482.6 991.7 L484.5 988.2 L486.3 990.9 L488.2 993.2 L490.0 993.6 L491.9 993.7 L493.7 995.3 L495.6 992.7 L497.4 986.3 L499.3 991.1 L501.1 995.2 L503.0 994.9 L504.8 994.1 L506.7 994.4 L508.5 991.1 L510.4 986.0 L512.2 991.5 L514.1 994.4 L515.9 994.6 L517.8 995.5 L519.6 994.2 L521.5 992.8 L523.3 987.9 L525.2 989.6 L527.0 993.4 L528.9 994.0 L530.7 993.9 L532.6 994.5 L534.4 991.4 L536.3 986.9 L538.1 989.5 L540.0 995.0 L541.8 994.1 L543.7 994.4 L545.5 994.5 L547.4 992.9 L549.2 986.9 L551.1 991.3 L552.9 994.0 L554.8 994.6 L556.6 994.6 L558.5 993.2 L560.3 991.8 L562.2 986.4 L564.0 989.2 L565.9 994.8 L567.7 993.7 L569.6 994.4 L571.4 994.9 L573.3 992.1 L575.1 986.7 L577.0 990.4 L578.8 994.2 L580.7 995.2 L582.5 993.6 L584.4 994.5 L586.2 991.3 L588.1 986.6 L589.9 991.0 L591.8 994.1 L593.6 994.6 L595.5 995.1 L597.3 995.3 L599.2 991.8 L601.0 987.4 L602.9 990.4 L604.7 994.1 L606.6 995.0 L608.4 994.4 L610.3 994.4 L612.1 991.9 L614.0 988.2 L615.8 990.8 L617.7 994.9 L619.5 995.6 L621.4 993.9 L623.2 994.5 L625.1 993.0 L626.9 988.0 L628.8 989.5 L630.6 993.1 L632.5 994.4 L634.3 993.5 L636.2 993.7 L638.0 990.9 L639.9 987.5 L641.7 991.0 L643.6 995.0 L645.4 993.7 L647.3 995.0 L649.1 994.7 L651.0 991.1 L652.8 988.1 L654.7 991.5 L656.5 993.4 L658.4 995.6 L660.2 994.3 L662.1 994.3 L663.9 993.1 L665.8 987.9 L667.6 989.5 L669.5 993.9 L671.3 994.5 L673.2 994.1 L675.0 993.6 L676.9 991.5 L678.7 987.7 L680.6 989.2 L682.4 994.2 L684.3 994.3 L686.1 993.3 L688.0 993.9 L689.8 992.2 L691.7 987.2 L693.5 989.3 L695.4 995.2 L697.2 995.2 L699.1 995.6 L700.9 993.4 L702.8 991.4 L704.6 986.0 L706.5 991.0 L708.3 993.5 L710.2 993.6 L712.0 994.3 L713.9 995.3 L715.7 992.7 L717.6 986.6 L719.4 989.5 L721.3 995.0 L723.1 994.7 L725.0 995.0 L726.8 993.3 L728.7 990.9 L730.5 987.6 L732.4 990.2 L734.2 993.0 L736.1 995.5 L737.9 994.8 L739.8 995.1 L741.6 991.0 L743.5 988.0 L745.3 989.3 L747.2 994.9 L749.0 994.4 L750.9 994.1 L752.7 994.5 L754.6 993.0 L756.4 986.6 L758.3 989.5 L760.1 994.1 L762.0 993.9 L763.8 993.6 L765.7 993.5 L767.5 990.9 L769.4 986.4 L771.2 989.9 L773.1 993.6 L774.9 995.1 L776.8 994.0 L778.6 994.3 L780.5 991.2 L782.3 986.8 L784.2 989.2 L786.0 993.4 L787.9 993.3 L789.7 995.1 L791.6 994.5 L793.4 991.2 L795.3 987.1 L797.1 991.4 L799.0 993.1 L800.8 995.3 L802.7 994.3 L804.5 994.3 L806.4 992.8 L808.2 986.9 L810.1 990.4 L811.9 994.5 L813.8 995.6 L815.6 994.1 L817.5 995.1 L819.3 992.4 L821.2 987.5 L823.0 990.1 L824.9 993.7 L826.7 993.4 L828.6 993.6 L830.4 993.3 L832.3 992.5 L834.1 986.5 L836.0 989.5 L837.8 993.0 L839.7 995.3 L841.5 995.4 L843.4 994.7 L845.2 991.4 L847.1 986.5 L848.9 989.8 L850.8 993.9 L852.6 993.7 L854.5 994.4 L856.3 993.8 L858.2 993.1 L860.0 988.3 L861.9 990.5 L863.7 993.4 L865.6 995.6 L867.4 994.0 L869.3 994.0 L871.1 990.8 L873.0 986.9 L874.8 990.3 L876.7 994.0 L878.5 993.8 L880.4 994.5 L882.2 993.1 L884.1 991.4 L885.9 986.2 L887.8 990.1 L889.6 992.9 L891.5 993.3 L893.3 994.0 L895.2 993.7 L897.0 992.2 L898.9 987.2 L900.7 990.9 L902.6 994.4 L904.4 995.0 L906.3 995.4 L908.1 994.1 L910.0 991.5 L911.8 988.3 L913.7 989.5 L915.5 994.6 L917.4 994.8 L919.2 993.4 L921.1 995.1 L922.9 992.9 L924.8 987.4 L926.6 990.9 L928.5 994.8 L930.3 993.6 L932.2 994.6 L934.0 994.3 L935.9 992.8 L937.7 987.9 L939.6 991.1 L941.4 994.1 L943.3 995.2 L945.1 994.5 L947.0 994.2 L948.8 990.6 L950.7 985.2 L952.5 988.5 L954.4 992.6 L956.2 992.2 L958.1 993.9 L959.9 992.9 L961.8 990.5 L963.6 985.6 L965.5 988.7 L967.3 991.8 L969.2 991.0 L971.0 992.7 L972.9 992.3 L974.7 989.2 L976.6 984.3 L978.4 987.7 L980.3 989.8 L982.1 988.3 L984.0 994.2 L985.8 1000.2 L987.7 1006.1 L989.5 1006.3 L991.4 1006.7 L993.2 1006.2 L995.1 1005.2 L996.9 1004.4 L998.8 1004.5 L1000.6 1005.3 L1002.5 1006.3 L1004.3 1006.7 L1006.2 1006.2 L1008.0 1005.2 L1009.9 1004.4 L1011.7 1004.5 L1013.6 1005.3 L1015.4 1006.3 L1017.3 1006.7 L1019.1 1006.2 L1021.0 1005.1 L1022.8 1004.4 L1024.7 1004.5 L1026.5 1005.3 L1028.4 1006.3 L1030.2 1006.7 L1032.1 1006.2 L1033.9 1005.1 L1035.8 1004.4 L1037.6 1004.5 L1039.5 1005.4 L1041.3 1006.3 L1043.2 1006.7 L1045.0 1006.1" fill="none" stroke="#6c6ed6" stroke-width="0.7" />
<rect x="828.60" y="989.60" width="4.40" height="8.80" rx="1" fill="#ffffff" stroke="#888" stroke-width="0.6"/>
<line x1="830.30" y1="991.50" x2="830.30" y2="996.50" stroke="#888" stroke-width="0.4" />
<line x1="831.40" y1="991.50" x2="831.40" y2="996.50" stroke="#888" stroke-width="0.4" />
<rect x="1043.50" y="989.60" width="4.40" height="8.80" rx="1" fill="#ffffff" stroke="#888" stroke-width="0.6"/>
<line x1="1045.20" y1="991.50" x2="1045.20" y2="996.50" stroke="#888" stroke-width="0.4" />
<line x1="1046.30" y1="991.50" x2="1046.30" y2="996.50" stroke="#888" stroke-width="0.4" />
<rect x="90.40" y="1009.80" width="956.30" height="6.00" rx="3" fill="#ffffff" stroke="#d6d7db" stroke-width="0.8"/>
<rect x="832.00" y="1009.60" width="213.70" height="6.40" rx="3.2" fill="#c5c5c7" />
<path d="M122.90 1085.15 L338.55 1085.15 A9.10 9.10 0 0 1 338.55 1103.35 L122.90 1103.35 Z" fill="#6366e6" stroke="none" stroke-width="1" />
<text x="69.50" y="1097.25" font-size="8.2" fill="#8e93a3" text-anchor="start" textLength="31.70" lengthAdjust="spacingAndGlyphs" >Nublado</text>
<text x="349.05" y="1096.85" font-size="7.2" fill="#1e2128" stroke="#1e2128" stroke-width="0.16" text-anchor="start" textLength="10.80" lengthAdjust="spacingAndGlyphs" >176</text>
<path d="M122.90 1153.25 L195.53 1153.25 A9.10 9.10 0 0 1 195.53 1171.45 L122.90 1171.45 Z" fill="#6366e6" stroke="none" stroke-width="1" />
<text x="69.50" y="1165.35" font-size="8.2" fill="#8e93a3" text-anchor="start" textLength="42.20" lengthAdjust="spacingAndGlyphs" >Garoa Leve</text>
<text x="206.03" y="1164.95" font-size="7.2" fill="#1e2128" stroke="#1e2128" stroke-width="0.16" text-anchor="start" textLength="7.20" lengthAdjust="spacingAndGlyphs" >64</text>
<path d="M122.90 1223.32 A9.10 9.10 0 0 1 122.90 1239.68 Z" fill="#6366e6" stroke="none" stroke-width="1" />
<text x="69.50" y="1234.50" font-size="8.2" fill="#8e93a3" text-anchor="start" textLength="40.10" lengthAdjust="spacingAndGlyphs" >Céu Limpo</text>
<text x="129.41" y="1234.10" font-size="7.2" fill="#1e2128" stroke="#1e2128" stroke-width="0.16" text-anchor="start" textLength="3.60" lengthAdjust="spacingAndGlyphs" >4</text>
<rect x="396.30" y="1055.00" width="322.80" height="27.00" rx="0" fill="#f6f7f9" />
<text x="403.30" y="1070.60" font-size="8.6" fill="#1d2029" font-weight="bold" text-anchor="start" >#</text>
<text x="510.30" y="1070.60" font-size="8.6" fill="#1d2029" font-weight="bold" text-anchor="start" textLength="42.00" lengthAdjust="spacingAndGlyphs" >Categoria</text>
<line x1="396.30" y1="1082.00" x2="719.10" y2="1082.00" stroke="#e6e7ea" stroke-width="0.7" />
<line x1="396.30" y1="1099.15" x2="719.10" y2="1099.15" stroke="#e6e7ea" stroke-width="0.7" />
<line x1="396.30" y1="1116.30" x2="719.10" y2="1116.30" stroke="#e6e7ea" stroke-width="0.7" />
<line x1="396.30" y1="1133.45" x2="719.10" y2="1133.45" stroke="#e6e7ea" stroke-width="0.7" />
<line x1="396.30" y1="1150.60" x2="719.10" y2="1150.60" stroke="#e6e7ea" stroke-width="0.7" />
<line x1="396.30" y1="1167.75" x2="719.10" y2="1167.75" stroke="#e6e7ea" stroke-width="0.7" />
<line x1="396.30" y1="1184.90" x2="719.10" y2="1184.90" stroke="#e6e7ea" stroke-width="0.7" />
<line x1="396.30" y1="1202.05" x2="719.10" y2="1202.05" stroke="#e6e7ea" stroke-width="0.7" />
<line x1="396.30" y1="1219.20" x2="719.10" y2="1219.20" stroke="#e6e7ea" stroke-width="0.7" />
<line x1="396.30" y1="1236.35" x2="719.10" y2="1236.35" stroke="#e6e7ea" stroke-width="0.7" />
<line x1="396.30" y1="1253.50" x2="719.10" y2="1253.50" stroke="#e6e7ea" stroke-width="0.7" />
<line x1="503.30" y1="1082.00" x2="503.30" y2="1256.00" stroke="#e6e7ea" stroke-width="0.7" />
<line x1="675.40" y1="1082.00" x2="675.40" y2="1256.00" stroke="#e6e7ea" stroke-width="0.7" />
<text x="399.30" y="1093.70" font-size="8.4" fill="#4a5060" text-anchor="start" textLength="3.00" lengthAdjust="spacingAndGlyphs" >1</text>
<text x="506.50" y="1093.70" font-size="8.0" fill="#4a5060" text-anchor="start" textLength="32.30" lengthAdjust="spacingAndGlyphs" >Padaria</text>
<text x="399.30" y="1110.85" font-size="8.4" fill="#4a5060" text-anchor="start" textLength="4.60" lengthAdjust="spacingAndGlyphs" >2</text>
<text x="506.50" y="1110.85" font-size="8.0" fill="#4a5060" text-anchor="start" textLength="25.00" lengthAdjust="spacingAndGlyphs" >Árabe</text>
<text x="399.30" y="1128.00" font-size="8.4" fill="#4a5060" text-anchor="start" textLength="4.60" lengthAdjust="spacingAndGlyphs" >3</text>
<text x="506.50" y="1128.00" font-size="8.0" fill="#4a5060" text-anchor="start" textLength="86.80" lengthAdjust="spacingAndGlyphs" >Bebida Não Alcoólica</text>
<text x="399.30" y="1145.15" font-size="8.4" fill="#4a5060" text-anchor="start" textLength="4.60" lengthAdjust="spacingAndGlyphs" >4</text>
<text x="506.50" y="1145.15" font-size="8.0" fill="#4a5060" text-anchor="start" textLength="38.20" lengthAdjust="spacingAndGlyphs" >Brasileira</text>
<text x="399.30" y="1162.30" font-size="8.4" fill="#4a5060" text-anchor="start" textLength="4.60" lengthAdjust="spacingAndGlyphs" >5</text>
<text x="506.50" y="1162.30" font-size="8.0" fill="#4a5060" text-anchor="start" textLength="26.30" lengthAdjust="spacingAndGlyphs" >Doces</text>
<text x="399.30" y="1179.45" font-size="8.4" fill="#4a5060" text-anchor="start" textLength="4.60" lengthAdjust="spacingAndGlyphs" >6</text>
<text x="506.50" y="1179.45" font-size="8.0" fill="#4a5060" text-anchor="start" textLength="37.50" lengthAdjust="spacingAndGlyphs" >Saudável</text>
<text x="399.30" y="1196.60" font-size="8.4" fill="#4a5060" text-anchor="start" textLength="4.60" lengthAdjust="spacingAndGlyphs" >7</text>
<text x="506.50" y="1196.60" font-size="8.0" fill="#4a5060" text-anchor="start" textLength="33.90" lengthAdjust="spacingAndGlyphs" >Petiscos</text>
<text x="399.30" y="1213.75" font-size="8.4" fill="#4a5060" text-anchor="start" textLength="4.60" lengthAdjust="spacingAndGlyphs" >8</text>
<text x="506.50" y="1213.75" font-size="8.0" fill="#4a5060" text-anchor="start" textLength="21.10" lengthAdjust="spacingAndGlyphs" >Pizza</text>
<text x="399.30" y="1230.90" font-size="8.4" fill="#4a5060" text-anchor="start" textLength="4.60" lengthAdjust="spacingAndGlyphs" >9</text>
<text x="506.50" y="1230.90" font-size="8.0" fill="#4a5060" text-anchor="start" textLength="26.80" lengthAdjust="spacingAndGlyphs" >Outros</text>
<text x="399.30" y="1248.05" font-size="8.4" fill="#4a5060" text-anchor="start" textLength="9.20" lengthAdjust="spacingAndGlyphs" >10</text>
<text x="506.50" y="1248.05" font-size="8.0" fill="#4a5060" text-anchor="start" textLength="17.70" lengthAdjust="spacingAndGlyphs" >Açaí</text>
<line x1="396.30" y1="1082.00" x2="396.30" y2="1256.00" stroke="#e6e7ea" stroke-width="0.7" />
<rect x="396.30" y="1258.50" width="322.80" height="16.50" rx="2" fill="#eef0f4" />
<rect x="729.90" y="1055.00" width="322.00" height="27.00" rx="0" fill="#f6f7f9" />
<text x="736.50" y="1070.60" font-size="8.6" fill="#1d2029" font-weight="bold" text-anchor="start" >#</text>
<text x="843.20" y="1070.60" font-size="8.6" fill="#1d2029" font-weight="bold" text-anchor="start" textLength="34.30" lengthAdjust="spacingAndGlyphs" >Atributo</text>
<line x1="729.90" y1="1082.00" x2="1051.90" y2="1082.00" stroke="#e6e7ea" stroke-width="0.7" />
<line x1="729.90" y1="1099.15" x2="1051.90" y2="1099.15" stroke="#e6e7ea" stroke-width="0.7" />
<line x1="729.90" y1="1116.30" x2="1051.90" y2="1116.30" stroke="#e6e7ea" stroke-width="0.7" />
<line x1="729.90" y1="1133.45" x2="1051.90" y2="1133.45" stroke="#e6e7ea" stroke-width="0.7" />
<line x1="729.90" y1="1150.60" x2="1051.90" y2="1150.60" stroke="#e6e7ea" stroke-width="0.7" />
<line x1="836.60" y1="1082.00" x2="836.60" y2="1150.60" stroke="#e6e7ea" stroke-width="0.7" />
<line x1="975.30" y1="1082.00" x2="975.30" y2="1150.60" stroke="#e6e7ea" stroke-width="0.7" />
<text x="732.90" y="1093.70" font-size="8.4" fill="#4a5060" text-anchor="start" textLength="3.00" lengthAdjust="spacingAndGlyphs" >1</text>
<text x="839.80" y="1093.70" font-size="8.0" fill="#4a5060" text-anchor="start" textLength="50.50" lengthAdjust="spacingAndGlyphs" >Vegetariano</text>
<text x="732.90" y="1110.85" font-size="8.4" fill="#4a5060" text-anchor="start" textLength="4.60" lengthAdjust="spacingAndGlyphs" >2</text>
<text x="839.80" y="1110.85" font-size="8.0" fill="#4a5060" text-anchor="start" textLength="29.70" lengthAdjust="spacingAndGlyphs" >Gelado</text>
<text x="732.90" y="1128.00" font-size="8.4" fill="#4a5060" text-anchor="start" textLength="4.60" lengthAdjust="spacingAndGlyphs" >3</text>
<text x="839.80" y="1128.00" font-size="8.0" fill="#4a5060" text-anchor="start" textLength="32.00" lengthAdjust="spacingAndGlyphs" >Vegano</text>
<text x="732.90" y="1145.15" font-size="8.4" fill="#4a5060" text-anchor="start" textLength="4.60" lengthAdjust="spacingAndGlyphs" >4</text>
<text x="839.80" y="1145.15" font-size="8.0" fill="#4a5060" text-anchor="start" textLength="53.70" lengthAdjust="spacingAndGlyphs" >Baixa Caloria</text>
<line x1="729.90" y1="1082.00" x2="729.90" y2="1150.60" stroke="#e6e7ea" stroke-width="0.7" />
<rect x="729.90" y="1257.80" width="322.00" height="16.50" rx="2" fill="#f0f2f5" />
</svg>
</body></html>
